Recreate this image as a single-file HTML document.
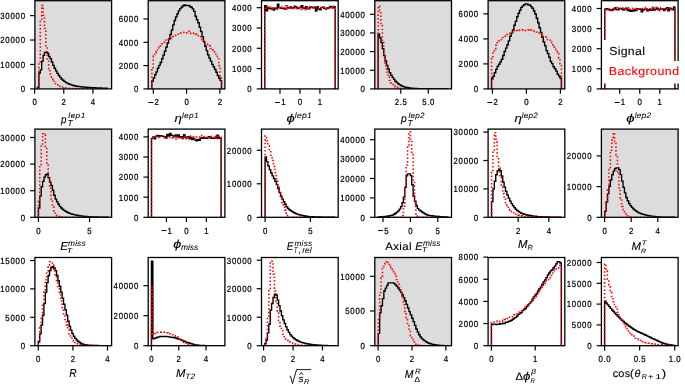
<!DOCTYPE html><html><head><meta charset="utf-8"><style>html,body{margin:0;padding:0;background:#fff;overflow:hidden}svg{display:block;will-change:transform}text{font-family:"Liberation Sans",sans-serif;text-rendering:geometricPrecision;stroke:currentColor;stroke-width:0.22px}</style></head><body>
<svg width="685" height="386" viewBox="0 0 685 386">
<rect width="685" height="386" fill="#fff"/>
<g>
<rect x="34.90" y="0.70" width="76.70" height="88.20" fill="#dcdcdc"/>
<clipPath id="cp00"><rect x="34.90" y="-0.30" width="76.70" height="89.20"/></clipPath>
<g clip-path="url(#cp00)">
<path d="M37.52,88.90L37.52,87.31L38.90,87.31L38.90,73.01L40.29,73.01L40.29,69.90L41.68,69.90L41.68,61.33L43.07,61.33L43.07,55.41L44.46,55.41L44.46,52.42L45.84,52.42L45.84,52.29L47.23,52.29L47.23,53.30L48.62,53.30L48.62,56.53L50.01,56.53L50.01,58.67L51.40,58.67L51.40,62.03L52.78,62.03L52.78,65.39L54.17,65.39L54.17,68.23L55.56,68.23L55.56,70.85L56.95,70.85L56.95,73.34L58.34,73.34L58.34,75.57L59.72,75.57L59.72,77.38L61.11,77.38L61.11,78.97L62.50,78.97L62.50,80.30L63.89,80.30L63.89,81.38L65.28,81.38L65.28,82.33L66.66,82.33L66.66,83.14L68.05,83.14L68.05,83.80L69.44,83.80L69.44,84.37L70.83,84.37L70.83,84.88L72.22,84.88L72.22,85.32L73.60,85.32L73.60,85.68L74.99,85.68L74.99,85.96L76.38,85.96L76.38,86.22L77.77,86.22L77.77,86.44L79.16,86.44L79.16,86.64L80.54,86.64L80.54,86.82L81.93,86.82L81.93,86.97L83.32,86.97L83.32,87.10L84.71,87.10L84.71,87.22L86.10,87.22L86.10,87.32L87.48,87.32L87.48,87.42L88.87,87.42L88.87,87.51L90.26,87.51L90.26,87.59L91.65,87.59L91.65,87.66L93.04,87.66L93.04,87.73L94.42,87.73L94.42,87.80L95.81,87.80L95.81,87.87L97.20,87.87L97.20,87.94L98.59,87.94L98.59,88.00L99.98,88.00L99.98,88.06L101.36,88.06L101.36,88.12L102.75,88.12L102.75,88.17L104.14,88.17L104.14,88.22L105.53,88.22L105.53,88.27L106.92,88.27L106.92,88.90" fill="none" stroke="#000" stroke-width="1.4" stroke-linejoin="miter"/>
<path d="M37.52,88.90L37.52,87.63L38.90,87.63L38.90,62.80L40.29,62.80L40.29,20.59L41.68,20.59L41.68,5.41L43.07,5.41L43.07,15.22L44.46,15.22L44.46,28.34L45.84,28.34L45.84,45.82L47.23,45.82L47.23,59.95L48.62,59.95L48.62,68.65L50.01,68.65L50.01,73.95L51.40,73.95L51.40,77.16L52.78,77.16L52.78,79.69L54.17,79.69L54.17,82.03L55.56,82.03L55.56,83.79L56.95,83.79L56.95,84.97L58.34,84.97L58.34,85.90L59.72,85.90L59.72,86.54L61.11,86.54L61.11,86.99L62.50,86.99L62.50,87.34L63.89,87.34L63.89,87.61L65.28,87.61L65.28,87.81L66.66,87.81L66.66,88.00L68.05,88.00L68.05,88.15L69.44,88.15L69.44,88.29L70.83,88.29L70.83,88.40L72.22,88.40L72.22,88.49L73.60,88.49L73.60,88.55L74.99,88.55L74.99,88.61L76.38,88.61L76.38,88.66L77.77,88.66L77.77,88.70L79.16,88.70L79.16,88.74L80.54,88.74L80.54,88.77L81.93,88.77L81.93,88.79L83.32,88.79L83.32,88.81L84.71,88.81L84.71,88.83L86.10,88.83L86.10,88.83L87.48,88.83L87.48,88.84L88.87,88.84L88.87,88.85L90.26,88.85L90.26,88.86L91.65,88.86L91.65,88.87L93.04,88.87L93.04,88.87L94.42,88.87L94.42,88.88L95.81,88.88L95.81,88.88L97.20,88.88L97.20,88.89L98.59,88.89L98.59,88.89L99.98,88.89L99.98,88.89L101.36,88.89L101.36,88.90L102.75,88.90L102.75,88.90L104.14,88.90L104.14,88.90L105.53,88.90L105.53,88.90L106.92,88.90L106.92,88.90" fill="none" stroke="#ff0000" stroke-width="1.55" stroke-linejoin="miter" stroke-dasharray="1.55 2.1"/>
</g>
<rect x="34.90" y="0.70" width="76.70" height="88.20" fill="none" stroke="#000" stroke-width="1.3"/>
<line x1="30.10" y1="88.90" x2="34.90" y2="88.90" stroke="#000" stroke-width="1.2"/>
<text transform="scale(0.88,1)" x="23.44" y="92.25" font-size="8.90">0</text>
<line x1="30.10" y1="64.47" x2="34.90" y2="64.47" stroke="#000" stroke-width="1.2"/>
<text transform="scale(0.88,1)" x="0.31 6.10 11.88 17.66 23.44" y="67.82" font-size="8.90">10000</text>
<line x1="30.10" y1="40.04" x2="34.90" y2="40.04" stroke="#000" stroke-width="1.2"/>
<text transform="scale(0.88,1)" x="0.31 6.10 11.88 17.66 23.44" y="43.39" font-size="8.90">20000</text>
<line x1="30.10" y1="15.61" x2="34.90" y2="15.61" stroke="#000" stroke-width="1.2"/>
<text transform="scale(0.88,1)" x="0.31 6.10 11.88 17.66 23.44" y="18.96" font-size="8.90">30000</text>
<line x1="34.60" y1="88.90" x2="34.60" y2="93.70" stroke="#000" stroke-width="1.2"/>
<text transform="scale(0.88,1)" x="36.84" y="105.10" font-size="8.90">0</text>
<line x1="63.76" y1="88.90" x2="63.76" y2="93.70" stroke="#000" stroke-width="1.2"/>
<text transform="scale(0.88,1)" x="69.98" y="105.10" font-size="8.90">2</text>
<line x1="92.92" y1="88.90" x2="92.92" y2="93.70" stroke="#000" stroke-width="1.2"/>
<text transform="scale(0.88,1)" x="103.12" y="105.10" font-size="8.90">4</text>
</g>
<g>
<rect x="148.20" y="0.70" width="76.70" height="88.20" fill="#dcdcdc"/>
<clipPath id="cp01"><rect x="148.20" y="-0.30" width="76.70" height="89.20"/></clipPath>
<g clip-path="url(#cp01)">
<path d="M151.84,88.90L151.84,81.28L153.24,81.28L153.24,78.15L154.63,78.15L154.63,74.81L156.02,74.81L156.02,71.91L157.42,71.91L157.42,68.23L158.81,68.23L158.81,65.36L160.20,65.36L160.20,62.50L161.60,62.50L161.60,58.74L162.99,58.74L162.99,55.10L164.39,55.10L164.39,51.22L165.78,51.22L165.78,47.29L167.17,47.29L167.17,42.97L168.57,42.97L168.57,39.02L169.96,39.02L169.96,34.47L171.35,34.47L171.35,30.01L172.75,30.01L172.75,24.89L174.14,24.89L174.14,20.54L175.53,20.54L175.53,16.96L176.93,16.96L176.93,13.84L178.32,13.84L178.32,10.85L179.72,10.85L179.72,8.63L181.11,8.63L181.11,7.28L182.50,7.28L182.50,5.75L183.90,5.75L183.90,5.06L185.29,5.06L185.29,5.54L186.68,5.54L186.68,5.38L188.08,5.38L188.08,5.57L189.47,5.57L189.47,6.43L190.86,6.43L190.86,7.29L192.26,7.29L192.26,8.85L193.65,8.85L193.65,11.41L195.04,11.41L195.04,16.22L196.44,16.22L196.44,19.64L197.83,19.64L197.83,22.73L199.23,22.73L199.23,27.21L200.62,27.21L200.62,31.64L202.01,31.64L202.01,36.63L203.41,36.63L203.41,41.74L204.80,41.74L204.80,46.21L206.19,46.21L206.19,50.67L207.59,50.67L207.59,54.83L208.98,54.83L208.98,58.08L210.37,58.08L210.37,61.08L211.77,61.08L211.77,64.33L213.16,64.33L213.16,66.84L214.56,66.84L214.56,69.45L215.95,69.45L215.95,72.22L217.34,72.22L217.34,75.49L218.74,75.49L218.74,78.24L220.13,78.24L220.13,80.58L221.52,80.58L221.52,88.90" fill="none" stroke="#000" stroke-width="1.4" stroke-linejoin="miter"/>
<path d="M151.84,88.90L151.84,68.70L153.24,68.70L153.24,56.00L154.63,56.00L154.63,52.89L156.02,52.89L156.02,52.13L157.42,52.13L157.42,48.73L158.81,48.73L158.81,47.17L160.20,47.17L160.20,45.95L161.60,45.95L161.60,43.66L162.99,43.66L162.99,42.40L164.39,42.40L164.39,41.68L165.78,41.68L165.78,40.09L167.17,40.09L167.17,39.93L168.57,39.93L168.57,39.19L169.96,39.19L169.96,38.59L171.35,38.59L171.35,37.11L172.75,37.11L172.75,36.48L174.14,36.48L174.14,35.36L175.53,35.36L175.53,35.24L176.93,35.24L176.93,34.31L178.32,34.31L178.32,34.23L179.72,34.23L179.72,32.95L181.11,32.95L181.11,32.88L182.50,32.88L182.50,32.56L183.90,32.56L183.90,32.34L185.29,32.34L185.29,32.85L186.68,32.85L186.68,31.93L188.08,31.93L188.08,31.35L189.47,31.35L189.47,33.21L190.86,33.21L190.86,33.47L192.26,33.47L192.26,33.67L193.65,33.67L193.65,33.09L195.04,33.09L195.04,34.11L196.44,34.11L196.44,34.49L197.83,34.49L197.83,35.55L199.23,35.55L199.23,36.79L200.62,36.79L200.62,38.06L202.01,38.06L202.01,39.77L203.41,39.77L203.41,40.86L204.80,40.86L204.80,43.32L206.19,43.32L206.19,44.36L207.59,44.36L207.59,45.32L208.98,45.32L208.98,45.85L210.37,45.85L210.37,48.41L211.77,48.41L211.77,50.10L213.16,50.10L213.16,51.67L214.56,51.67L214.56,53.03L215.95,53.03L215.95,56.17L217.34,56.17L217.34,58.80L218.74,58.80L218.74,65.53L220.13,65.53L220.13,75.92L221.52,75.92L221.52,88.90" fill="none" stroke="#ff0000" stroke-width="1.55" stroke-linejoin="miter" stroke-dasharray="1.55 2.1"/>
</g>
<rect x="148.20" y="0.70" width="76.70" height="88.20" fill="none" stroke="#000" stroke-width="1.3"/>
<line x1="143.40" y1="88.90" x2="148.20" y2="88.90" stroke="#000" stroke-width="1.2"/>
<text transform="scale(0.88,1)" x="152.19" y="92.25" font-size="8.90">0</text>
<line x1="143.40" y1="65.60" x2="148.20" y2="65.60" stroke="#000" stroke-width="1.2"/>
<text transform="scale(0.88,1)" x="134.85 140.63 146.41 152.19" y="68.95" font-size="8.90">2000</text>
<line x1="143.40" y1="42.30" x2="148.20" y2="42.30" stroke="#000" stroke-width="1.2"/>
<text transform="scale(0.88,1)" x="134.85 140.63 146.41 152.19" y="45.65" font-size="8.90">4000</text>
<line x1="143.40" y1="19.00" x2="148.20" y2="19.00" stroke="#000" stroke-width="1.2"/>
<text transform="scale(0.88,1)" x="134.85 140.63 146.41 152.19" y="22.35" font-size="8.90">6000</text>
<line x1="153.34" y1="88.90" x2="153.34" y2="93.70" stroke="#000" stroke-width="1.2"/>
<rect x="148.29" y="102.00" width="5.00" height="0.95"/><text transform="scale(0.88,1)" x="175.58" y="105.10" font-size="8.90">2</text>
<line x1="186.60" y1="88.90" x2="186.60" y2="93.70" stroke="#000" stroke-width="1.2"/>
<text transform="scale(0.88,1)" x="209.57" y="105.10" font-size="8.90">0</text>
<line x1="219.86" y1="88.90" x2="219.86" y2="93.70" stroke="#000" stroke-width="1.2"/>
<text transform="scale(0.88,1)" x="247.37" y="105.10" font-size="8.90">2</text>
</g>
<g>
<clipPath id="cp02"><rect x="261.50" y="-0.30" width="76.70" height="89.20"/></clipPath>
<g clip-path="url(#cp02)">
<path d="M264.74,88.90L264.74,5.62L266.15,5.62L266.15,10.76L267.56,10.76L267.56,7.44L268.96,7.44L268.96,8.54L270.37,8.54L270.37,8.41L271.78,8.41L271.78,8.14L273.19,8.14L273.19,10.16L274.60,10.16L274.60,8.16L276.01,8.16L276.01,8.87L277.41,8.87L277.41,4.19L278.82,4.19L278.82,7.65L280.23,7.65L280.23,8.30L281.64,8.30L281.64,8.22L283.05,8.22L283.05,8.65L284.46,8.65L284.46,9.08L285.87,9.08L285.87,8.34L287.27,8.34L287.27,7.36L288.68,7.36L288.68,8.17L290.09,8.17L290.09,6.83L291.50,6.83L291.50,8.13L292.91,8.13L292.91,7.88L294.32,7.88L294.32,6.18L295.72,6.18L295.72,7.29L297.13,7.29L297.13,8.47L298.54,8.47L298.54,8.11L299.95,8.11L299.95,7.30L301.36,7.30L301.36,5.74L302.77,5.74L302.77,8.20L304.18,8.20L304.18,8.17L305.58,8.17L305.58,6.78L306.99,6.78L306.99,8.89L308.40,8.89L308.40,8.23L309.81,8.23L309.81,6.92L311.22,6.92L311.22,7.26L312.63,7.26L312.63,7.80L314.03,7.80L314.03,7.15L315.44,7.15L315.44,11.06L316.85,11.06L316.85,6.76L318.26,6.76L318.26,8.97L319.67,8.97L319.67,9.77L321.08,9.77L321.08,7.59L322.49,7.59L322.49,7.12L323.89,7.12L323.89,8.40L325.30,8.40L325.30,9.10L326.71,9.10L326.71,7.87L328.12,7.87L328.12,7.96L329.53,7.96L329.53,6.33L330.94,6.33L330.94,7.07L332.34,7.07L332.34,7.69L333.75,7.69L333.75,6.66L335.16,6.66L335.16,88.90" fill="none" stroke="#000" stroke-width="1.4" stroke-linejoin="miter"/>
<path d="M264.74,88.90L264.74,8.50L266.15,8.50L266.15,8.06L267.56,8.06L267.56,6.38L268.96,6.38L268.96,7.30L270.37,7.30L270.37,9.40L271.78,9.40L271.78,7.91L273.19,7.91L273.19,8.47L274.60,8.47L274.60,7.77L276.01,7.77L276.01,9.37L277.41,9.37L277.41,7.68L278.82,7.68L278.82,7.69L280.23,7.69L280.23,6.46L281.64,6.46L281.64,7.61L283.05,7.61L283.05,7.44L284.46,7.44L284.46,9.27L285.87,9.27L285.87,5.85L287.27,5.85L287.27,9.65L288.68,9.65L288.68,6.90L290.09,6.90L290.09,8.20L291.50,8.20L291.50,8.71L292.91,8.71L292.91,8.50L294.32,8.50L294.32,8.52L295.72,8.52L295.72,7.56L297.13,7.56L297.13,8.00L298.54,8.00L298.54,6.55L299.95,6.55L299.95,9.57L301.36,9.57L301.36,7.91L302.77,7.91L302.77,8.72L304.18,8.72L304.18,7.19L305.58,7.19L305.58,9.84L306.99,9.84L306.99,8.22L308.40,8.22L308.40,7.71L309.81,7.71L309.81,9.26L311.22,9.26L311.22,7.00L312.63,7.00L312.63,7.74L314.03,7.74L314.03,6.98L315.44,6.98L315.44,7.03L316.85,7.03L316.85,8.80L318.26,8.80L318.26,8.63L319.67,8.63L319.67,8.09L321.08,8.09L321.08,7.22L322.49,7.22L322.49,7.13L323.89,7.13L323.89,8.55L325.30,8.55L325.30,8.46L326.71,8.46L326.71,8.63L328.12,8.63L328.12,8.44L329.53,8.44L329.53,8.12L330.94,8.12L330.94,8.02L332.34,8.02L332.34,6.02L333.75,6.02L333.75,8.37L335.16,8.37L335.16,88.90" fill="none" stroke="#ff0000" stroke-width="1.55" stroke-linejoin="miter" stroke-dasharray="1.55 2.1"/>
</g>
<rect x="261.50" y="0.70" width="76.70" height="88.20" fill="none" stroke="#000" stroke-width="1.3"/>
<line x1="256.70" y1="88.90" x2="261.50" y2="88.90" stroke="#000" stroke-width="1.2"/>
<text transform="scale(0.88,1)" x="280.94" y="92.25" font-size="8.90">0</text>
<line x1="256.70" y1="68.60" x2="261.50" y2="68.60" stroke="#000" stroke-width="1.2"/>
<text transform="scale(0.88,1)" x="263.60 269.38 275.16 280.94" y="71.95" font-size="8.90">1000</text>
<line x1="256.70" y1="48.30" x2="261.50" y2="48.30" stroke="#000" stroke-width="1.2"/>
<text transform="scale(0.88,1)" x="263.60 269.38 275.16 280.94" y="51.65" font-size="8.90">2000</text>
<line x1="256.70" y1="28.00" x2="261.50" y2="28.00" stroke="#000" stroke-width="1.2"/>
<text transform="scale(0.88,1)" x="263.60 269.38 275.16 280.94" y="31.35" font-size="8.90">3000</text>
<line x1="256.70" y1="7.70" x2="261.50" y2="7.70" stroke="#000" stroke-width="1.2"/>
<text transform="scale(0.88,1)" x="263.60 269.38 275.16 280.94" y="11.05" font-size="8.90">4000</text>
<line x1="280.00" y1="88.90" x2="280.00" y2="93.70" stroke="#000" stroke-width="1.2"/>
<rect x="274.95" y="102.00" width="5.00" height="0.95"/><text transform="scale(0.88,1)" x="319.52" y="105.10" font-size="8.90">1</text>
<line x1="299.95" y1="88.90" x2="299.95" y2="93.70" stroke="#000" stroke-width="1.2"/>
<text transform="scale(0.88,1)" x="338.38" y="105.10" font-size="8.90">0</text>
<line x1="319.90" y1="88.90" x2="319.90" y2="93.70" stroke="#000" stroke-width="1.2"/>
<text transform="scale(0.88,1)" x="361.05" y="105.10" font-size="8.90">1</text>
</g>
<g>
<rect x="374.80" y="0.70" width="76.70" height="88.20" fill="#dcdcdc"/>
<clipPath id="cp03"><rect x="374.80" y="-0.30" width="76.70" height="89.20"/></clipPath>
<g clip-path="url(#cp03)">
<path d="M378.14,88.90L378.14,33.89L379.54,33.89L379.54,37.82L380.93,37.82L380.93,42.65L382.33,42.65L382.33,48.68L383.73,48.68L383.73,55.59L385.12,55.59L385.12,61.02L386.52,61.02L386.52,65.39L387.92,65.39L387.92,69.28L389.32,69.28L389.32,72.80L390.71,72.80L390.71,75.32L392.11,75.32L392.11,77.38L393.51,77.38L393.51,79.41L394.90,79.41L394.90,81.20L396.30,81.20L396.30,82.57L397.70,82.57L397.70,83.70L399.10,83.70L399.10,84.62L400.49,84.62L400.49,85.43L401.89,85.43L401.89,86.14L403.29,86.14L403.29,86.69L404.68,86.69L404.68,87.09L406.08,87.09L406.08,87.45L407.48,87.45L407.48,87.76L408.87,87.76L408.87,88.00L410.27,88.00L410.27,88.17L411.67,88.17L411.67,88.27L413.06,88.27L413.06,88.37L414.46,88.37L414.46,88.45L415.86,88.45L415.86,88.52L417.26,88.52L417.26,88.58L418.65,88.58L418.65,88.63L420.05,88.63L420.05,88.67L421.45,88.67L421.45,88.70L422.84,88.70L422.84,88.72L424.24,88.72L424.24,88.74L425.64,88.74L425.64,88.76L427.04,88.76L427.04,88.78L428.43,88.78L428.43,88.79L429.83,88.79L429.83,88.81L431.23,88.81L431.23,88.82L432.62,88.82L432.62,88.83L434.02,88.83L434.02,88.85L435.42,88.85L435.42,88.86L436.81,88.86L436.81,88.87L438.21,88.87L438.21,88.87L439.61,88.87L439.61,88.88L441.00,88.88L441.00,88.89L442.40,88.89L442.40,88.89L443.80,88.89L443.80,88.90L445.20,88.90L445.20,88.90L446.59,88.90L446.59,88.90L447.99,88.90L447.99,88.90" fill="none" stroke="#000" stroke-width="1.4" stroke-linejoin="miter"/>
<path d="M378.14,88.90L378.14,6.12L379.54,6.12L379.54,12.69L380.93,12.69L380.93,25.60L382.33,25.60L382.33,41.54L383.73,41.54L383.73,55.19L385.12,55.19L385.12,65.91L386.52,65.91L386.52,72.01L387.92,72.01L387.92,76.45L389.32,76.45L389.32,80.24L390.71,80.24L390.71,82.85L392.11,82.85L392.11,84.43L393.51,84.43L393.51,85.70L394.90,85.70L394.90,86.68L396.30,86.68L396.30,87.39L397.70,87.39L397.70,87.92L399.10,87.92L399.10,88.38L400.49,88.38L400.49,88.66L401.89,88.66L401.89,88.72L403.29,88.72L403.29,88.74L404.68,88.74L404.68,88.75L406.08,88.75L406.08,88.77L407.48,88.77L407.48,88.77L408.87,88.77L408.87,88.78L410.27,88.78L410.27,88.79L411.67,88.79L411.67,88.79L413.06,88.79L413.06,88.80L414.46,88.80L414.46,88.80L415.86,88.80L415.86,88.80L417.26,88.80L417.26,88.81L418.65,88.81L418.65,88.81L420.05,88.81L420.05,88.82L421.45,88.82L421.45,88.82L422.84,88.82L422.84,88.82L424.24,88.82L424.24,88.83L425.64,88.83L425.64,88.83L427.04,88.83L427.04,88.84L428.43,88.84L428.43,88.84L429.83,88.84L429.83,88.84L431.23,88.84L431.23,88.84L432.62,88.84L432.62,88.85L434.02,88.85L434.02,88.85L435.42,88.85L435.42,88.85L436.81,88.85L436.81,88.85L438.21,88.85L438.21,88.86L439.61,88.86L439.61,88.86L441.00,88.86L441.00,88.86L442.40,88.86L442.40,88.86L443.80,88.86L443.80,88.86L445.20,88.86L445.20,88.86L446.59,88.86L446.59,88.86L447.99,88.86L447.99,88.90" fill="none" stroke="#ff0000" stroke-width="1.55" stroke-linejoin="miter" stroke-dasharray="1.55 2.1"/>
</g>
<rect x="374.80" y="0.70" width="76.70" height="88.20" fill="none" stroke="#000" stroke-width="1.3"/>
<line x1="370.00" y1="88.90" x2="374.80" y2="88.90" stroke="#000" stroke-width="1.2"/>
<text transform="scale(0.88,1)" x="409.69" y="92.25" font-size="8.90">0</text>
<line x1="370.00" y1="70.25" x2="374.80" y2="70.25" stroke="#000" stroke-width="1.2"/>
<text transform="scale(0.88,1)" x="386.56 392.35 398.13 403.91 409.69" y="73.60" font-size="8.90">10000</text>
<line x1="370.00" y1="51.60" x2="374.80" y2="51.60" stroke="#000" stroke-width="1.2"/>
<text transform="scale(0.88,1)" x="386.56 392.35 398.13 403.91 409.69" y="54.95" font-size="8.90">20000</text>
<line x1="370.00" y1="32.95" x2="374.80" y2="32.95" stroke="#000" stroke-width="1.2"/>
<text transform="scale(0.88,1)" x="386.56 392.35 398.13 403.91 409.69" y="36.30" font-size="8.90">30000</text>
<line x1="370.00" y1="14.30" x2="374.80" y2="14.30" stroke="#000" stroke-width="1.2"/>
<text transform="scale(0.88,1)" x="386.56 392.35 398.13 403.91 409.69" y="17.65" font-size="8.90">40000</text>
<line x1="400.80" y1="88.90" x2="400.80" y2="93.70" stroke="#000" stroke-width="1.2"/>
<text transform="scale(0.88,1)" x="448.64 454.22 457.32" y="105.10" font-size="8.90">2.5</text>
<line x1="428.30" y1="88.90" x2="428.30" y2="93.70" stroke="#000" stroke-width="1.2"/>
<text transform="scale(0.88,1)" x="479.89 485.47 488.57" y="105.10" font-size="8.90">5.0</text>
</g>
<g>
<rect x="488.10" y="0.70" width="76.70" height="88.20" fill="#dcdcdc"/>
<clipPath id="cp04"><rect x="488.10" y="-0.30" width="76.70" height="89.20"/></clipPath>
<g clip-path="url(#cp04)">
<path d="M491.55,88.90L491.55,78.77L492.95,78.77L492.95,76.28L494.34,76.28L494.34,72.75L495.74,72.75L495.74,69.42L497.14,69.42L497.14,66.42L498.54,66.42L498.54,64.22L499.93,64.22L499.93,61.88L501.33,61.88L501.33,59.18L502.73,59.18L502.73,55.45L504.13,55.45L504.13,51.51L505.52,51.51L505.52,48.14L506.92,48.14L506.92,44.78L508.32,44.78L508.32,40.89L509.72,40.89L509.72,36.27L511.11,36.27L511.11,33.12L512.51,33.12L512.51,30.06L513.91,30.06L513.91,25.30L515.31,25.30L515.31,21.24L516.70,21.24L516.70,16.81L518.10,16.81L518.10,13.26L519.50,13.26L519.50,10.23L520.90,10.23L520.90,7.35L522.29,7.35L522.29,5.85L523.69,5.85L523.69,4.72L525.09,4.72L525.09,4.00L526.49,4.00L526.49,3.91L527.88,3.91L527.88,4.97L529.28,4.97L529.28,4.93L530.68,4.93L530.68,6.58L532.07,6.58L532.07,8.24L533.47,8.24L533.47,10.97L534.87,10.97L534.87,13.99L536.27,13.99L536.27,18.22L537.66,18.22L537.66,22.70L539.06,22.70L539.06,27.80L540.46,27.80L540.46,32.33L541.86,32.33L541.86,37.32L543.25,37.32L543.25,42.04L544.65,42.04L544.65,45.86L546.05,45.86L546.05,50.61L547.45,50.61L547.45,53.61L548.84,53.61L548.84,57.26L550.24,57.26L550.24,61.49L551.64,61.49L551.64,63.60L553.04,63.60L553.04,66.80L554.43,66.80L554.43,68.80L555.83,68.80L555.83,71.11L557.23,71.11L557.23,74.24L558.63,74.24L558.63,76.02L560.02,76.02L560.02,78.33L561.42,78.33L561.42,88.90" fill="none" stroke="#000" stroke-width="1.4" stroke-linejoin="miter"/>
<path d="M491.55,88.90L491.55,58.40L492.95,58.40L492.95,51.73L494.34,51.73L494.34,48.93L495.74,48.93L495.74,45.25L497.14,45.25L497.14,42.71L498.54,42.71L498.54,40.94L499.93,40.94L499.93,39.80L501.33,39.80L501.33,38.33L502.73,38.33L502.73,37.47L504.13,37.47L504.13,36.13L505.52,36.13L505.52,35.06L506.92,35.06L506.92,34.42L508.32,34.42L508.32,33.54L509.72,33.54L509.72,32.44L511.11,32.44L511.11,32.09L512.51,32.09L512.51,30.95L513.91,30.95L513.91,30.51L515.31,30.51L515.31,30.07L516.70,30.07L516.70,30.44L518.10,30.44L518.10,29.81L519.50,29.81L519.50,30.38L520.90,30.38L520.90,30.24L522.29,30.24L522.29,29.89L523.69,29.89L523.69,29.81L525.09,29.81L525.09,30.44L526.49,30.44L526.49,30.57L527.88,30.57L527.88,30.04L529.28,30.04L529.28,30.57L530.68,30.57L530.68,30.11L532.07,30.11L532.07,30.57L533.47,30.57L533.47,30.94L534.87,30.94L534.87,31.49L536.27,31.49L536.27,31.90L537.66,31.90L537.66,32.92L539.06,32.92L539.06,33.24L540.46,33.24L540.46,34.48L541.86,34.48L541.86,35.21L543.25,35.21L543.25,36.26L544.65,36.26L544.65,36.85L546.05,36.85L546.05,38.10L547.45,38.10L547.45,39.54L548.84,39.54L548.84,39.92L550.24,39.92L550.24,42.10L551.64,42.10L551.64,43.66L553.04,43.66L553.04,45.38L554.43,45.38L554.43,47.17L555.83,47.17L555.83,50.41L557.23,50.41L557.23,53.35L558.63,53.35L558.63,57.94L560.02,57.94L560.02,63.82L561.42,63.82L561.42,88.90" fill="none" stroke="#ff0000" stroke-width="1.55" stroke-linejoin="miter" stroke-dasharray="1.55 2.1"/>
</g>
<rect x="488.10" y="0.70" width="76.70" height="88.20" fill="none" stroke="#000" stroke-width="1.3"/>
<line x1="483.30" y1="88.90" x2="488.10" y2="88.90" stroke="#000" stroke-width="1.2"/>
<text transform="scale(0.88,1)" x="538.44" y="92.25" font-size="8.90">0</text>
<line x1="483.30" y1="63.90" x2="488.10" y2="63.90" stroke="#000" stroke-width="1.2"/>
<text transform="scale(0.88,1)" x="521.10 526.88 532.66 538.44" y="67.25" font-size="8.90">2000</text>
<line x1="483.30" y1="38.90" x2="488.10" y2="38.90" stroke="#000" stroke-width="1.2"/>
<text transform="scale(0.88,1)" x="521.10 526.88 532.66 538.44" y="42.25" font-size="8.90">4000</text>
<line x1="483.30" y1="13.90" x2="488.10" y2="13.90" stroke="#000" stroke-width="1.2"/>
<text transform="scale(0.88,1)" x="521.10 526.88 532.66 538.44" y="17.25" font-size="8.90">6000</text>
<line x1="492.40" y1="88.90" x2="492.40" y2="93.70" stroke="#000" stroke-width="1.2"/>
<rect x="487.35" y="102.00" width="5.00" height="0.95"/><text transform="scale(0.88,1)" x="560.88" y="105.10" font-size="8.90">2</text>
<line x1="526.40" y1="88.90" x2="526.40" y2="93.70" stroke="#000" stroke-width="1.2"/>
<text transform="scale(0.88,1)" x="595.71" y="105.10" font-size="8.90">0</text>
<line x1="560.40" y1="88.90" x2="560.40" y2="93.70" stroke="#000" stroke-width="1.2"/>
<text transform="scale(0.88,1)" x="634.34" y="105.10" font-size="8.90">2</text>
</g>
<g>
<clipPath id="cp05"><rect x="601.40" y="-0.30" width="76.70" height="89.20"/></clipPath>
<g clip-path="url(#cp05)">
<path d="M604.76,88.90L604.76,9.10L606.17,9.10L606.17,8.77L607.57,8.77L607.57,9.41L608.97,9.41L608.97,10.09L610.38,10.09L610.38,9.61L611.78,9.61L611.78,10.20L613.18,10.20L613.18,9.04L614.59,9.04L614.59,7.62L615.99,7.62L615.99,9.65L617.39,9.65L617.39,9.79L618.80,9.79L618.80,8.56L620.20,8.56L620.20,8.71L621.60,8.71L621.60,8.99L623.01,8.99L623.01,10.13L624.41,10.13L624.41,9.14L625.82,9.14L625.82,8.33L627.22,8.33L627.22,10.59L628.62,10.59L628.62,9.61L630.03,9.61L630.03,11.20L631.43,11.20L631.43,10.53L632.83,10.53L632.83,11.14L634.24,11.14L634.24,9.36L635.64,9.36L635.64,10.50L637.04,10.50L637.04,8.80L638.45,8.80L638.45,8.93L639.85,8.93L639.85,9.31L641.25,9.31L641.25,11.89L642.66,11.89L642.66,9.70L644.06,9.70L644.06,9.16L645.46,9.16L645.46,8.98L646.87,8.98L646.87,10.79L648.27,10.79L648.27,9.63L649.67,9.63L649.67,10.18L651.08,10.18L651.08,10.00L652.48,10.00L652.48,7.93L653.89,7.93L653.89,10.00L655.29,10.00L655.29,9.14L656.69,9.14L656.69,8.13L658.10,8.13L658.10,9.75L659.50,9.75L659.50,9.23L660.90,9.23L660.90,8.98L662.31,8.98L662.31,9.03L663.71,9.03L663.71,10.46L665.11,10.46L665.11,9.02L666.52,9.02L666.52,7.60L667.92,7.60L667.92,10.81L669.32,10.81L669.32,8.15L670.73,8.15L670.73,8.97L672.13,8.97L672.13,9.81L673.53,9.81L673.53,6.89L674.94,6.89L674.94,88.90" fill="none" stroke="#000" stroke-width="1.4" stroke-linejoin="miter"/>
<path d="M604.76,88.90L604.76,10.27L606.17,10.27L606.17,9.91L607.57,9.91L607.57,9.93L608.97,9.93L608.97,9.02L610.38,9.02L610.38,10.79L611.78,10.79L611.78,8.87L613.18,8.87L613.18,9.57L614.59,9.57L614.59,7.89L615.99,7.89L615.99,7.84L617.39,7.84L617.39,7.44L618.80,7.44L618.80,8.01L620.20,8.01L620.20,8.75L621.60,8.75L621.60,7.92L623.01,7.92L623.01,7.34L624.41,7.34L624.41,9.29L625.82,9.29L625.82,8.15L627.22,8.15L627.22,8.74L628.62,8.74L628.62,7.40L630.03,7.40L630.03,9.46L631.43,9.46L631.43,8.97L632.83,8.97L632.83,8.37L634.24,8.37L634.24,8.47L635.64,8.47L635.64,10.18L637.04,10.18L637.04,8.38L638.45,8.38L638.45,8.81L639.85,8.81L639.85,8.92L641.25,8.92L641.25,8.84L642.66,8.84L642.66,8.50L644.06,8.50L644.06,10.34L645.46,10.34L645.46,7.30L646.87,7.30L646.87,9.48L648.27,9.48L648.27,10.73L649.67,10.73L649.67,8.78L651.08,8.78L651.08,7.38L652.48,7.38L652.48,9.17L653.89,9.17L653.89,7.30L655.29,7.30L655.29,7.29L656.69,7.29L656.69,9.48L658.10,9.48L658.10,10.93L659.50,10.93L659.50,9.82L660.90,9.82L660.90,7.63L662.31,7.63L662.31,9.44L663.71,9.44L663.71,10.07L665.11,10.07L665.11,9.91L666.52,9.91L666.52,8.70L667.92,8.70L667.92,8.72L669.32,8.72L669.32,7.91L670.73,7.91L670.73,7.81L672.13,7.81L672.13,9.54L673.53,9.54L673.53,8.84L674.94,8.84L674.94,88.90" fill="none" stroke="#ff0000" stroke-width="1.55" stroke-linejoin="miter" stroke-dasharray="1.55 2.1"/>
</g>
<rect x="601.40" y="0.70" width="76.70" height="88.20" fill="none" stroke="#000" stroke-width="1.3"/>
<line x1="596.60" y1="88.90" x2="601.40" y2="88.90" stroke="#000" stroke-width="1.2"/>
<text transform="scale(0.88,1)" x="667.19" y="92.25" font-size="8.90">0</text>
<line x1="596.60" y1="68.80" x2="601.40" y2="68.80" stroke="#000" stroke-width="1.2"/>
<text transform="scale(0.88,1)" x="649.85 655.63 661.41 667.19" y="72.15" font-size="8.90">1000</text>
<line x1="596.60" y1="48.70" x2="601.40" y2="48.70" stroke="#000" stroke-width="1.2"/>
<text transform="scale(0.88,1)" x="649.85 655.63 661.41 667.19" y="52.05" font-size="8.90">2000</text>
<line x1="596.60" y1="28.60" x2="601.40" y2="28.60" stroke="#000" stroke-width="1.2"/>
<text transform="scale(0.88,1)" x="649.85 655.63 661.41 667.19" y="31.95" font-size="8.90">3000</text>
<line x1="596.60" y1="8.50" x2="601.40" y2="8.50" stroke="#000" stroke-width="1.2"/>
<text transform="scale(0.88,1)" x="649.85 655.63 661.41 667.19" y="11.85" font-size="8.90">4000</text>
<line x1="619.70" y1="88.90" x2="619.70" y2="93.70" stroke="#000" stroke-width="1.2"/>
<rect x="614.65" y="102.00" width="5.00" height="0.95"/><text transform="scale(0.88,1)" x="705.54" y="105.10" font-size="8.90">1</text>
<line x1="639.75" y1="88.90" x2="639.75" y2="93.70" stroke="#000" stroke-width="1.2"/>
<text transform="scale(0.88,1)" x="724.51" y="105.10" font-size="8.90">0</text>
<line x1="659.80" y1="88.90" x2="659.80" y2="93.70" stroke="#000" stroke-width="1.2"/>
<text transform="scale(0.88,1)" x="747.30" y="105.10" font-size="8.90">1</text>
</g>
<g>
<rect x="34.90" y="129.10" width="76.70" height="88.20" fill="#dcdcdc"/>
<clipPath id="cp10"><rect x="34.90" y="128.10" width="76.70" height="89.20"/></clipPath>
<g clip-path="url(#cp10)">
<path d="M38.40,217.30L38.40,207.95L39.80,207.95L39.80,196.00L41.20,196.00L41.20,186.71L42.60,186.71L42.60,181.40L44.00,181.40L44.00,177.14L45.40,177.14L45.40,174.75L46.80,174.75L46.80,173.94L48.20,173.94L48.20,177.81L49.60,177.81L49.60,182.25L51.00,182.25L51.00,185.49L52.39,185.49L52.39,190.31L53.79,190.31L53.79,195.24L55.19,195.24L55.19,199.09L56.59,199.09L56.59,201.92L57.99,201.92L57.99,204.29L59.39,204.29L59.39,206.40L60.79,206.40L60.79,208.06L62.19,208.06L62.19,209.31L63.59,209.31L63.59,210.35L64.99,210.35L64.99,211.23L66.39,211.23L66.39,212.03L67.79,212.03L67.79,212.75L69.19,212.75L69.19,213.37L70.59,213.37L70.59,213.85L71.99,213.85L71.99,214.26L73.39,214.26L73.39,214.61L74.79,214.61L74.79,214.91L76.19,214.91L76.19,215.18L77.58,215.18L77.58,215.44L78.98,215.44L78.98,215.68L80.38,215.68L80.38,215.89L81.78,215.89L81.78,216.08L83.18,216.08L83.18,216.24L84.58,216.24L84.58,216.38L85.98,216.38L85.98,216.50L87.38,216.50L87.38,216.61L88.78,216.61L88.78,216.72L90.18,216.72L90.18,216.81L91.58,216.81L91.58,216.88L92.98,216.88L92.98,216.95L94.38,216.95L94.38,216.99L95.78,216.99L95.78,217.04L97.18,217.04L97.18,217.08L98.58,217.08L98.58,217.11L99.98,217.11L99.98,217.15L101.38,217.15L101.38,217.18L102.78,217.18L102.78,217.20L104.17,217.20L104.17,217.22L105.57,217.22L105.57,217.24L106.97,217.24L106.97,217.25L108.37,217.25L108.37,217.30" fill="none" stroke="#000" stroke-width="1.4" stroke-linejoin="miter"/>
<path d="M38.40,217.30L38.40,201.22L39.80,201.22L39.80,166.72L41.20,166.72L41.20,145.48L42.60,145.48L42.60,133.78L44.00,133.78L44.00,134.83L45.40,134.83L45.40,146.75L46.80,146.75L46.80,162.95L48.20,162.95L48.20,177.03L49.60,177.03L49.60,188.29L51.00,188.29L51.00,201.32L52.39,201.32L52.39,206.70L53.79,206.70L53.79,211.85L55.19,211.85L55.19,214.38L56.59,214.38L56.59,215.79L57.99,215.79L57.99,216.55L59.39,216.55L59.39,216.94L60.79,216.94L60.79,217.14L62.19,217.14L62.19,217.27L63.59,217.27L63.59,217.30L64.99,217.30L64.99,217.30L66.39,217.30L66.39,217.30L67.79,217.30L67.79,217.30L69.19,217.30L69.19,217.30L70.59,217.30L70.59,217.30L71.99,217.30L71.99,217.30L73.39,217.30L73.39,217.30L74.79,217.30L74.79,217.30L76.19,217.30L76.19,217.30L77.58,217.30L77.58,217.30L78.98,217.30L78.98,217.30L80.38,217.30L80.38,217.30L81.78,217.30L81.78,217.30L83.18,217.30L83.18,217.30L84.58,217.30L84.58,217.30L85.98,217.30L85.98,217.30L87.38,217.30L87.38,217.30L88.78,217.30L88.78,217.30L90.18,217.30L90.18,217.30L91.58,217.30L91.58,217.30L92.98,217.30L92.98,217.30L94.38,217.30L94.38,217.30L95.78,217.30L95.78,217.30L97.18,217.30L97.18,217.30L98.58,217.30L98.58,217.30L99.98,217.30L99.98,217.30L101.38,217.30L101.38,217.30L102.78,217.30L102.78,217.30L104.17,217.30L104.17,217.30L105.57,217.30L105.57,217.30L106.97,217.30L106.97,217.30L108.37,217.30L108.37,217.30" fill="none" stroke="#ff0000" stroke-width="1.55" stroke-linejoin="miter" stroke-dasharray="1.55 2.1"/>
</g>
<rect x="34.90" y="129.10" width="76.70" height="88.20" fill="none" stroke="#000" stroke-width="1.3"/>
<line x1="30.10" y1="217.30" x2="34.90" y2="217.30" stroke="#000" stroke-width="1.2"/>
<text transform="scale(0.88,1)" x="23.44" y="220.65" font-size="8.90">0</text>
<line x1="30.10" y1="190.70" x2="34.90" y2="190.70" stroke="#000" stroke-width="1.2"/>
<text transform="scale(0.88,1)" x="0.31 6.10 11.88 17.66 23.44" y="194.05" font-size="8.90">10000</text>
<line x1="30.10" y1="164.10" x2="34.90" y2="164.10" stroke="#000" stroke-width="1.2"/>
<text transform="scale(0.88,1)" x="0.31 6.10 11.88 17.66 23.44" y="167.45" font-size="8.90">20000</text>
<line x1="30.10" y1="137.50" x2="34.90" y2="137.50" stroke="#000" stroke-width="1.2"/>
<text transform="scale(0.88,1)" x="0.31 6.10 11.88 17.66 23.44" y="140.85" font-size="8.90">30000</text>
<line x1="38.40" y1="217.30" x2="38.40" y2="222.10" stroke="#000" stroke-width="1.2"/>
<text transform="scale(0.88,1)" x="41.16" y="233.50" font-size="8.90">0</text>
<line x1="89.55" y1="217.30" x2="89.55" y2="222.10" stroke="#000" stroke-width="1.2"/>
<text transform="scale(0.88,1)" x="99.29" y="233.50" font-size="8.90">5</text>
</g>
<g>
<clipPath id="cp11"><rect x="148.20" y="128.10" width="76.70" height="89.20"/></clipPath>
<g clip-path="url(#cp11)">
<path d="M151.49,217.30L151.49,138.36L152.88,138.36L152.88,137.04L154.27,137.04L154.27,138.69L155.67,138.69L155.67,136.13L157.06,136.13L157.06,135.43L158.45,135.43L158.45,136.84L159.84,136.84L159.84,135.79L161.24,135.79L161.24,135.84L162.63,135.84L162.63,136.39L164.02,136.39L164.02,136.79L165.41,136.79L165.41,137.94L166.81,137.94L166.81,134.48L168.20,134.48L168.20,135.97L169.59,135.97L169.59,133.44L170.98,133.44L170.98,135.20L172.38,135.20L172.38,135.83L173.77,135.83L173.77,136.86L175.16,136.86L175.16,134.90L176.55,134.90L176.55,136.92L177.95,136.92L177.95,134.95L179.34,134.95L179.34,137.06L180.73,137.06L180.73,136.61L182.12,136.61L182.12,138.47L183.52,138.47L183.52,134.72L184.91,134.72L184.91,137.31L186.30,137.31L186.30,137.76L187.69,137.76L187.69,136.78L189.09,136.78L189.09,138.78L190.48,138.78L190.48,137.42L191.87,137.42L191.87,139.66L193.26,139.66L193.26,138.17L194.66,138.17L194.66,139.92L196.05,139.92L196.05,140.75L197.44,140.75L197.44,139.44L198.83,139.44L198.83,140.20L200.23,140.20L200.23,138.01L201.62,138.01L201.62,138.36L203.01,138.36L203.01,137.68L204.40,137.68L204.40,137.93L205.80,137.93L205.80,138.25L207.19,138.25L207.19,137.76L208.58,137.76L208.58,136.62L209.97,136.62L209.97,137.76L211.37,137.76L211.37,138.24L212.76,138.24L212.76,138.36L214.15,138.36L214.15,137.51L215.54,137.51L215.54,137.96L216.94,137.96L216.94,135.23L218.33,135.23L218.33,138.23L219.72,138.23L219.72,138.07L221.11,138.07L221.11,217.30" fill="none" stroke="#000" stroke-width="1.4" stroke-linejoin="miter"/>
<path d="M151.49,217.30L151.49,138.21L152.88,138.21L152.88,137.83L154.27,137.83L154.27,137.89L155.67,137.89L155.67,136.83L157.06,136.83L157.06,137.35L158.45,137.35L158.45,136.97L159.84,136.97L159.84,136.25L161.24,136.25L161.24,136.24L162.63,136.24L162.63,136.62L164.02,136.62L164.02,137.55L165.41,137.55L165.41,137.86L166.81,137.86L166.81,137.92L168.20,137.92L168.20,137.45L169.59,137.45L169.59,137.15L170.98,137.15L170.98,138.08L172.38,138.08L172.38,138.24L173.77,138.24L173.77,136.79L175.16,136.79L175.16,138.96L176.55,138.96L176.55,137.28L177.95,137.28L177.95,136.67L179.34,136.67L179.34,138.09L180.73,138.09L180.73,138.22L182.12,138.22L182.12,137.87L183.52,137.87L183.52,136.45L184.91,136.45L184.91,137.23L186.30,137.23L186.30,138.98L187.69,138.98L187.69,137.53L189.09,137.53L189.09,136.08L190.48,136.08L190.48,136.11L191.87,136.11L191.87,136.47L193.26,136.47L193.26,137.34L194.66,137.34L194.66,138.96L196.05,138.96L196.05,136.93L197.44,136.93L197.44,137.28L198.83,137.28L198.83,137.02L200.23,137.02L200.23,135.55L201.62,135.55L201.62,136.92L203.01,136.92L203.01,136.82L204.40,136.82L204.40,136.49L205.80,136.49L205.80,137.36L207.19,137.36L207.19,137.77L208.58,137.77L208.58,137.84L209.97,137.84L209.97,136.33L211.37,136.33L211.37,136.59L212.76,136.59L212.76,137.59L214.15,137.59L214.15,135.94L215.54,135.94L215.54,136.92L216.94,136.92L216.94,138.45L218.33,138.45L218.33,136.49L219.72,136.49L219.72,137.24L221.11,137.24L221.11,217.30" fill="none" stroke="#ff0000" stroke-width="1.55" stroke-linejoin="miter" stroke-dasharray="1.55 2.1"/>
</g>
<rect x="148.20" y="129.10" width="76.70" height="88.20" fill="none" stroke="#000" stroke-width="1.3"/>
<line x1="143.40" y1="217.30" x2="148.20" y2="217.30" stroke="#000" stroke-width="1.2"/>
<text transform="scale(0.88,1)" x="152.19" y="220.65" font-size="8.90">0</text>
<line x1="143.40" y1="197.20" x2="148.20" y2="197.20" stroke="#000" stroke-width="1.2"/>
<text transform="scale(0.88,1)" x="134.85 140.63 146.41 152.19" y="200.55" font-size="8.90">1000</text>
<line x1="143.40" y1="177.10" x2="148.20" y2="177.10" stroke="#000" stroke-width="1.2"/>
<text transform="scale(0.88,1)" x="134.85 140.63 146.41 152.19" y="180.45" font-size="8.90">2000</text>
<line x1="143.40" y1="157.00" x2="148.20" y2="157.00" stroke="#000" stroke-width="1.2"/>
<text transform="scale(0.88,1)" x="134.85 140.63 146.41 152.19" y="160.35" font-size="8.90">3000</text>
<line x1="143.40" y1="136.90" x2="148.20" y2="136.90" stroke="#000" stroke-width="1.2"/>
<text transform="scale(0.88,1)" x="134.85 140.63 146.41 152.19" y="140.25" font-size="8.90">4000</text>
<line x1="166.45" y1="217.30" x2="166.45" y2="222.10" stroke="#000" stroke-width="1.2"/>
<rect x="161.40" y="230.00" width="5.00" height="0.95"/><text transform="scale(0.88,1)" x="190.48" y="233.50" font-size="8.90">1</text>
<line x1="186.40" y1="217.30" x2="186.40" y2="222.10" stroke="#000" stroke-width="1.2"/>
<text transform="scale(0.88,1)" x="209.34" y="233.50" font-size="8.90">0</text>
<line x1="206.35" y1="217.30" x2="206.35" y2="222.10" stroke="#000" stroke-width="1.2"/>
<text transform="scale(0.88,1)" x="232.01" y="233.50" font-size="8.90">1</text>
</g>
<g>
<clipPath id="cp12"><rect x="261.50" y="128.10" width="76.70" height="89.20"/></clipPath>
<g clip-path="url(#cp12)">
<path d="M265.10,217.30L265.10,156.86L266.50,156.86L266.50,161.60L267.91,161.60L267.91,165.87L269.31,165.87L269.31,169.63L270.72,169.63L270.72,172.94L272.12,172.94L272.12,175.84L273.53,175.84L273.53,178.57L274.93,178.57L274.93,181.27L276.33,181.27L276.33,184.55L277.74,184.55L277.74,188.53L279.14,188.53L279.14,192.57L280.55,192.57L280.55,196.18L281.95,196.18L281.95,199.09L283.36,199.09L283.36,201.68L284.76,201.68L284.76,204.24L286.16,204.24L286.16,206.70L287.57,206.70L287.57,208.50L288.97,208.50L288.97,209.75L290.38,209.75L290.38,210.75L291.78,210.75L291.78,211.61L293.19,211.61L293.19,212.43L294.59,212.43L294.59,213.19L295.99,213.19L295.99,213.86L297.40,213.86L297.40,214.39L298.80,214.39L298.80,214.78L300.21,214.78L300.21,215.13L301.61,215.13L301.61,215.46L303.02,215.46L303.02,215.76L304.42,215.76L304.42,216.02L305.82,216.02L305.82,216.25L307.23,216.25L307.23,216.44L308.63,216.44L308.63,216.59L310.04,216.59L310.04,216.69L311.44,216.69L311.44,216.75L312.85,216.75L312.85,216.81L314.25,216.81L314.25,216.87L315.65,216.87L315.65,216.93L317.06,216.93L317.06,216.98L318.46,216.98L318.46,217.03L319.87,217.03L319.87,217.07L321.27,217.07L321.27,217.11L322.68,217.11L322.68,217.15L324.08,217.15L324.08,217.18L325.48,217.18L325.48,217.21L326.89,217.21L326.89,217.24L328.29,217.24L328.29,217.26L329.70,217.26L329.70,217.27L331.10,217.27L331.10,217.29L332.51,217.29L332.51,217.30L333.91,217.30L333.91,217.30L335.32,217.30L335.32,217.30" fill="none" stroke="#000" stroke-width="1.4" stroke-linejoin="miter"/>
<path d="M265.10,217.30L265.10,135.89L266.50,135.89L266.50,140.90L267.91,140.90L267.91,145.68L269.31,145.68L269.31,150.42L270.72,150.42L270.72,155.22L272.12,155.22L272.12,160.59L273.53,160.59L273.53,166.40L274.93,166.40L274.93,172.57L276.33,172.57L276.33,178.94L277.74,178.94L277.74,185.41L279.14,185.41L279.14,191.81L280.55,191.81L280.55,197.65L281.95,197.65L281.95,202.69L283.36,202.69L283.36,206.79L284.76,206.79L284.76,210.15L286.16,210.15L286.16,213.11L287.57,213.11L287.57,215.61L288.97,215.61L288.97,217.30L290.38,217.30L290.38,217.30L291.78,217.30L291.78,217.30L293.19,217.30L293.19,217.30L294.59,217.30L294.59,217.30L295.99,217.30L295.99,217.30L297.40,217.30L297.40,217.30L298.80,217.30L298.80,217.30L300.21,217.30L300.21,217.30L301.61,217.30L301.61,217.30L303.02,217.30L303.02,217.30L304.42,217.30L304.42,217.30L305.82,217.30L305.82,217.30L307.23,217.30L307.23,217.30L308.63,217.30L308.63,217.30L310.04,217.30L310.04,217.30L311.44,217.30L311.44,217.30L312.85,217.30L312.85,217.30L314.25,217.30L314.25,217.30L315.65,217.30L315.65,217.30L317.06,217.30L317.06,217.30L318.46,217.30L318.46,217.30L319.87,217.30L319.87,217.30L321.27,217.30L321.27,217.30L322.68,217.30L322.68,217.30L324.08,217.30L324.08,217.30L325.48,217.30L325.48,217.30L326.89,217.30L326.89,217.30L328.29,217.30L328.29,217.30L329.70,217.30L329.70,217.30L331.10,217.30L331.10,217.30L332.51,217.30L332.51,217.30L333.91,217.30L333.91,217.30L335.32,217.30L335.32,217.30" fill="none" stroke="#ff0000" stroke-width="1.55" stroke-linejoin="miter" stroke-dasharray="1.55 2.1"/>
</g>
<rect x="261.50" y="129.10" width="76.70" height="88.20" fill="none" stroke="#000" stroke-width="1.3"/>
<line x1="256.70" y1="217.30" x2="261.50" y2="217.30" stroke="#000" stroke-width="1.2"/>
<text transform="scale(0.88,1)" x="280.94" y="220.65" font-size="8.90">0</text>
<line x1="256.70" y1="183.78" x2="261.50" y2="183.78" stroke="#000" stroke-width="1.2"/>
<text transform="scale(0.88,1)" x="257.81 263.60 269.38 275.16 280.94" y="187.13" font-size="8.90">10000</text>
<line x1="256.70" y1="150.26" x2="261.50" y2="150.26" stroke="#000" stroke-width="1.2"/>
<text transform="scale(0.88,1)" x="257.81 263.60 269.38 275.16 280.94" y="153.61" font-size="8.90">20000</text>
<line x1="265.10" y1="217.30" x2="265.10" y2="222.10" stroke="#000" stroke-width="1.2"/>
<text transform="scale(0.88,1)" x="298.78" y="233.50" font-size="8.90">0</text>
<line x1="310.40" y1="217.30" x2="310.40" y2="222.10" stroke="#000" stroke-width="1.2"/>
<text transform="scale(0.88,1)" x="350.25" y="233.50" font-size="8.90">5</text>
</g>
<g>
<clipPath id="cp13"><rect x="374.80" y="128.10" width="76.70" height="89.20"/></clipPath>
<g clip-path="url(#cp13)">
<path d="M378.26,217.30L378.26,216.98L379.66,216.98L379.66,216.89L381.05,216.89L381.05,216.79L382.45,216.79L382.45,216.66L383.84,216.66L383.84,216.52L385.24,216.52L385.24,216.37L386.63,216.37L386.63,216.19L388.03,216.19L388.03,215.98L389.42,215.98L389.42,215.73L390.82,215.73L390.82,215.41L392.21,215.41L392.21,215.00L393.61,215.00L393.61,214.28L395.00,214.28L395.00,213.29L396.40,213.29L396.40,212.16L397.79,212.16L397.79,210.83L399.19,210.83L399.19,209.09L400.58,209.09L400.58,206.61L401.98,206.61L401.98,202.79L403.37,202.79L403.37,197.15L404.77,197.15L404.77,187.39L406.16,187.39L406.16,175.80L407.56,175.80L407.56,173.89L408.95,173.89L408.95,173.87L410.35,173.87L410.35,175.59L411.74,175.59L411.74,184.79L413.14,184.79L413.14,195.94L414.53,195.94L414.53,201.29L415.93,201.29L415.93,205.42L417.32,205.42L417.32,208.33L418.72,208.33L418.72,209.91L420.11,209.91L420.11,211.07L421.51,211.07L421.51,212.02L422.90,212.02L422.90,212.91L424.30,212.91L424.30,213.76L425.69,213.76L425.69,214.50L427.09,214.50L427.09,215.04L428.48,215.04L428.48,215.36L429.88,215.36L429.88,215.61L431.27,215.61L431.27,215.81L432.67,215.81L432.67,215.98L434.06,215.98L434.06,216.13L435.46,216.13L435.46,216.26L436.85,216.26L436.85,216.39L438.25,216.39L438.25,216.51L439.64,216.51L439.64,216.63L441.04,216.63L441.04,216.74L442.43,216.74L442.43,216.84L443.83,216.84L443.83,216.94L445.22,216.94L445.22,217.01L446.62,217.01L446.62,217.08L448.01,217.08L448.01,217.30" fill="none" stroke="#000" stroke-width="1.4" stroke-linejoin="miter"/>
<path d="M378.26,217.30L378.26,217.30L379.66,217.30L379.66,217.30L381.05,217.30L381.05,217.30L382.45,217.30L382.45,217.30L383.84,217.30L383.84,217.30L385.24,217.30L385.24,217.30L386.63,217.30L386.63,217.30L388.03,217.30L388.03,217.30L389.42,217.30L389.42,217.30L390.82,217.30L390.82,217.30L392.21,217.30L392.21,217.30L393.61,217.30L393.61,217.30L395.00,217.30L395.00,217.30L396.40,217.30L396.40,217.30L397.79,217.30L397.79,217.30L399.19,217.30L399.19,217.30L400.58,217.30L400.58,217.30L401.98,217.30L401.98,215.54L403.37,215.54L403.37,206.12L404.77,206.12L404.77,187.62L406.16,187.62L406.16,165.00L407.56,165.00L407.56,145.53L408.95,145.53L408.95,131.84L410.35,131.84L410.35,138.93L411.74,138.93L411.74,153.50L413.14,153.50L413.14,181.42L414.53,181.42L414.53,203.55L415.93,203.55L415.93,214.95L417.32,214.95L417.32,217.30L418.72,217.30L418.72,217.30L420.11,217.30L420.11,217.30L421.51,217.30L421.51,217.30L422.90,217.30L422.90,217.30L424.30,217.30L424.30,217.30L425.69,217.30L425.69,217.30L427.09,217.30L427.09,217.30L428.48,217.30L428.48,217.30L429.88,217.30L429.88,217.30L431.27,217.30L431.27,217.30L432.67,217.30L432.67,217.30L434.06,217.30L434.06,217.30L435.46,217.30L435.46,217.30L436.85,217.30L436.85,217.30L438.25,217.30L438.25,217.30L439.64,217.30L439.64,217.30L441.04,217.30L441.04,217.30L442.43,217.30L442.43,217.30L443.83,217.30L443.83,217.30L445.22,217.30L445.22,217.30L446.62,217.30L446.62,217.30L448.01,217.30L448.01,217.30" fill="none" stroke="#ff0000" stroke-width="1.55" stroke-linejoin="miter" stroke-dasharray="1.55 2.1"/>
</g>
<rect x="374.80" y="129.10" width="76.70" height="88.20" fill="none" stroke="#000" stroke-width="1.3"/>
<line x1="370.00" y1="217.30" x2="374.80" y2="217.30" stroke="#000" stroke-width="1.2"/>
<text transform="scale(0.88,1)" x="409.69" y="220.65" font-size="8.90">0</text>
<line x1="370.00" y1="197.90" x2="374.80" y2="197.90" stroke="#000" stroke-width="1.2"/>
<text transform="scale(0.88,1)" x="386.56 392.35 398.13 403.91 409.69" y="201.25" font-size="8.90">10000</text>
<line x1="370.00" y1="178.50" x2="374.80" y2="178.50" stroke="#000" stroke-width="1.2"/>
<text transform="scale(0.88,1)" x="386.56 392.35 398.13 403.91 409.69" y="181.85" font-size="8.90">20000</text>
<line x1="370.00" y1="159.10" x2="374.80" y2="159.10" stroke="#000" stroke-width="1.2"/>
<text transform="scale(0.88,1)" x="386.56 392.35 398.13 403.91 409.69" y="162.45" font-size="8.90">30000</text>
<line x1="370.00" y1="139.70" x2="374.80" y2="139.70" stroke="#000" stroke-width="1.2"/>
<text transform="scale(0.88,1)" x="386.56 392.35 398.13 403.91 409.69" y="143.05" font-size="8.90">40000</text>
<line x1="383.02" y1="217.30" x2="383.02" y2="222.10" stroke="#000" stroke-width="1.2"/>
<rect x="377.98" y="230.00" width="5.00" height="0.95"/><text transform="scale(0.88,1)" x="436.59" y="233.50" font-size="8.90">5</text>
<line x1="410.40" y1="217.30" x2="410.40" y2="222.10" stroke="#000" stroke-width="1.2"/>
<text transform="scale(0.88,1)" x="463.89" y="233.50" font-size="8.90">0</text>
<line x1="437.77" y1="217.30" x2="437.77" y2="222.10" stroke="#000" stroke-width="1.2"/>
<text transform="scale(0.88,1)" x="495.00" y="233.50" font-size="8.90">5</text>
</g>
<g>
<clipPath id="cp14"><rect x="488.10" y="128.10" width="76.70" height="89.20"/></clipPath>
<g clip-path="url(#cp14)">
<path d="M491.55,217.30L491.55,201.44L492.95,201.44L492.95,189.01L494.34,189.01L494.34,181.32L495.74,181.32L495.74,174.80L497.13,174.80L497.13,170.84L498.53,170.84L498.53,169.32L499.92,169.32L499.92,170.77L501.32,170.77L501.32,175.97L502.71,175.97L502.71,182.24L504.11,182.24L504.11,187.13L505.51,187.13L505.51,191.33L506.90,191.33L506.90,194.95L508.30,194.95L508.30,198.16L509.69,198.16L509.69,201.11L511.09,201.11L511.09,203.61L512.48,203.61L512.48,205.73L513.88,205.73L513.88,207.63L515.28,207.63L515.28,209.22L516.67,209.22L516.67,210.46L518.07,210.46L518.07,211.50L519.46,211.50L519.46,212.41L520.86,212.41L520.86,213.19L522.25,213.19L522.25,213.80L523.65,213.80L523.65,214.27L525.04,214.27L525.04,214.66L526.44,214.66L526.44,214.99L527.84,214.99L527.84,215.27L529.23,215.27L529.23,215.52L530.63,215.52L530.63,215.73L532.02,215.73L532.02,215.94L533.42,215.94L533.42,216.13L534.81,216.13L534.81,216.31L536.21,216.31L536.21,216.46L537.60,216.46L537.60,216.59L539.00,216.59L539.00,216.69L540.40,216.69L540.40,216.76L541.79,216.76L541.79,216.83L543.19,216.83L543.19,216.89L544.58,216.89L544.58,216.94L545.98,216.94L545.98,217.00L547.37,217.00L547.37,217.05L548.77,217.05L548.77,217.10L550.16,217.10L550.16,217.14L551.56,217.14L551.56,217.18L552.96,217.18L552.96,217.21L554.35,217.21L554.35,217.24L555.75,217.24L555.75,217.26L557.14,217.26L557.14,217.28L558.54,217.28L558.54,217.29L559.93,217.29L559.93,217.30L561.33,217.30L561.33,217.30" fill="none" stroke="#000" stroke-width="1.4" stroke-linejoin="miter"/>
<path d="M491.55,217.30L491.55,172.27L492.95,172.27L492.95,150.84L494.34,150.84L494.34,132.71L495.74,132.71L495.74,139.24L497.13,139.24L497.13,157.60L498.53,157.60L498.53,168.09L499.92,168.09L499.92,177.21L501.32,177.21L501.32,186.88L502.71,186.88L502.71,193.60L504.11,193.60L504.11,198.68L505.51,198.68L505.51,202.72L506.90,202.72L506.90,205.81L508.30,205.81L508.30,208.32L509.69,208.32L509.69,210.13L511.09,210.13L511.09,211.57L512.48,211.57L512.48,212.72L513.88,212.72L513.88,213.55L515.28,213.55L515.28,214.17L516.67,214.17L516.67,214.68L518.07,214.68L518.07,215.10L519.46,215.10L519.46,215.48L520.86,215.48L520.86,215.85L522.25,215.85L522.25,216.17L523.65,216.17L523.65,216.40L525.04,216.40L525.04,216.55L526.44,216.55L526.44,216.67L527.84,216.67L527.84,216.78L529.23,216.78L529.23,216.87L530.63,216.87L530.63,216.95L532.02,216.95L532.02,217.00L533.42,217.00L533.42,217.03L534.81,217.03L534.81,217.06L536.21,217.06L536.21,217.08L537.60,217.08L537.60,217.10L539.00,217.10L539.00,217.13L540.40,217.13L540.40,217.15L541.79,217.15L541.79,217.17L543.19,217.17L543.19,217.19L544.58,217.19L544.58,217.20L545.98,217.20L545.98,217.22L547.37,217.22L547.37,217.23L548.77,217.23L548.77,217.25L550.16,217.25L550.16,217.26L551.56,217.26L551.56,217.27L552.96,217.27L552.96,217.28L554.35,217.28L554.35,217.29L555.75,217.29L555.75,217.29L557.14,217.29L557.14,217.30L558.54,217.30L558.54,217.30L559.93,217.30L559.93,217.30L561.33,217.30L561.33,217.30" fill="none" stroke="#ff0000" stroke-width="1.55" stroke-linejoin="miter" stroke-dasharray="1.55 2.1"/>
</g>
<rect x="488.10" y="129.10" width="76.70" height="88.20" fill="none" stroke="#000" stroke-width="1.3"/>
<line x1="483.30" y1="217.30" x2="488.10" y2="217.30" stroke="#000" stroke-width="1.2"/>
<text transform="scale(0.88,1)" x="538.44" y="220.65" font-size="8.90">0</text>
<line x1="483.30" y1="188.90" x2="488.10" y2="188.90" stroke="#000" stroke-width="1.2"/>
<text transform="scale(0.88,1)" x="515.31 521.10 526.88 532.66 538.44" y="192.25" font-size="8.90">10000</text>
<line x1="483.30" y1="160.50" x2="488.10" y2="160.50" stroke="#000" stroke-width="1.2"/>
<text transform="scale(0.88,1)" x="515.31 521.10 526.88 532.66 538.44" y="163.85" font-size="8.90">20000</text>
<line x1="483.30" y1="132.10" x2="488.10" y2="132.10" stroke="#000" stroke-width="1.2"/>
<text transform="scale(0.88,1)" x="515.31 521.10 526.88 532.66 538.44" y="135.45" font-size="8.90">30000</text>
<line x1="518.14" y1="217.30" x2="518.14" y2="222.10" stroke="#000" stroke-width="1.2"/>
<text transform="scale(0.88,1)" x="586.32" y="233.50" font-size="8.90">2</text>
<line x1="548.88" y1="217.30" x2="548.88" y2="222.10" stroke="#000" stroke-width="1.2"/>
<text transform="scale(0.88,1)" x="621.25" y="233.50" font-size="8.90">4</text>
</g>
<g>
<rect x="601.40" y="129.10" width="76.70" height="88.20" fill="#dcdcdc"/>
<clipPath id="cp15"><rect x="601.40" y="128.10" width="76.70" height="89.20"/></clipPath>
<g clip-path="url(#cp15)">
<path d="M604.73,217.30L604.73,211.35L606.14,211.35L606.14,202.00L607.55,202.00L607.55,193.59L608.95,193.59L608.95,186.28L610.36,186.28L610.36,179.98L611.77,179.98L611.77,174.81L613.18,174.81L613.18,171.14L614.58,171.14L614.58,168.77L615.99,168.77L615.99,167.84L617.40,167.84L617.40,167.67L618.80,167.67L618.80,169.67L620.21,169.67L620.21,174.64L621.62,174.64L621.62,181.11L623.03,181.11L623.03,187.36L624.43,187.36L624.43,192.84L625.84,192.84L625.84,197.45L627.25,197.45L627.25,200.80L628.65,200.80L628.65,203.49L630.06,203.49L630.06,205.60L631.47,205.60L631.47,207.36L632.88,207.36L632.88,208.85L634.28,208.85L634.28,210.09L635.69,210.09L635.69,211.16L637.10,211.16L637.10,212.09L638.50,212.09L638.50,212.84L639.91,212.84L639.91,213.42L641.32,213.42L641.32,213.94L642.73,213.94L642.73,214.40L644.13,214.40L644.13,214.81L645.54,214.81L645.54,215.15L646.95,215.15L646.95,215.44L648.35,215.44L648.35,215.68L649.76,215.68L649.76,215.91L651.17,215.91L651.17,216.13L652.58,216.13L652.58,216.34L653.98,216.34L653.98,216.53L655.39,216.53L655.39,216.70L656.80,216.70L656.80,216.84L658.20,216.84L658.20,216.97L659.61,216.97L659.61,217.06L661.02,217.06L661.02,217.13L662.43,217.13L662.43,217.16L663.83,217.16L663.83,217.19L665.24,217.19L665.24,217.21L666.65,217.21L666.65,217.24L668.05,217.24L668.05,217.26L669.46,217.26L669.46,217.27L670.87,217.27L670.87,217.29L672.28,217.29L672.28,217.29L673.68,217.29L673.68,217.30L675.09,217.30L675.09,217.30" fill="none" stroke="#000" stroke-width="1.4" stroke-linejoin="miter"/>
<path d="M604.73,217.30L604.73,213.14L606.14,213.14L606.14,202.87L607.55,202.87L607.55,188.09L608.95,188.09L608.95,169.40L610.36,169.40L610.36,150.25L611.77,150.25L611.77,139.95L613.18,139.95L613.18,132.76L614.58,132.76L614.58,141.43L615.99,141.43L615.99,154.93L617.40,154.93L617.40,171.75L618.80,171.75L618.80,187.70L620.21,187.70L620.21,198.37L621.62,198.37L621.62,206.56L623.03,206.56L623.03,210.94L624.43,210.94L624.43,213.57L625.84,213.57L625.84,215.07L627.25,215.07L627.25,215.80L628.65,215.80L628.65,216.40L630.06,216.40L630.06,216.86L631.47,216.86L631.47,217.17L632.88,217.17L632.88,217.30L634.28,217.30L634.28,217.30L635.69,217.30L635.69,217.30L637.10,217.30L637.10,217.30L638.50,217.30L638.50,217.30L639.91,217.30L639.91,217.30L641.32,217.30L641.32,217.30L642.73,217.30L642.73,217.30L644.13,217.30L644.13,217.30L645.54,217.30L645.54,217.30L646.95,217.30L646.95,217.30L648.35,217.30L648.35,217.30L649.76,217.30L649.76,217.30L651.17,217.30L651.17,217.30L652.58,217.30L652.58,217.30L653.98,217.30L653.98,217.30L655.39,217.30L655.39,217.30L656.80,217.30L656.80,217.30L658.20,217.30L658.20,217.30L659.61,217.30L659.61,217.30L661.02,217.30L661.02,217.30L662.43,217.30L662.43,217.30L663.83,217.30L663.83,217.30L665.24,217.30L665.24,217.30L666.65,217.30L666.65,217.30L668.05,217.30L668.05,217.30L669.46,217.30L669.46,217.30L670.87,217.30L670.87,217.30L672.28,217.30L672.28,217.30L673.68,217.30L673.68,217.30L675.09,217.30L675.09,217.30" fill="none" stroke="#ff0000" stroke-width="1.55" stroke-linejoin="miter" stroke-dasharray="1.55 2.1"/>
</g>
<rect x="601.40" y="129.10" width="76.70" height="88.20" fill="none" stroke="#000" stroke-width="1.3"/>
<line x1="596.60" y1="217.30" x2="601.40" y2="217.30" stroke="#000" stroke-width="1.2"/>
<text transform="scale(0.88,1)" x="667.19" y="220.65" font-size="8.90">0</text>
<line x1="596.60" y1="186.60" x2="601.40" y2="186.60" stroke="#000" stroke-width="1.2"/>
<text transform="scale(0.88,1)" x="644.06 649.85 655.63 661.41 667.19" y="189.95" font-size="8.90">10000</text>
<line x1="596.60" y1="155.90" x2="601.40" y2="155.90" stroke="#000" stroke-width="1.2"/>
<text transform="scale(0.88,1)" x="644.06 649.85 655.63 661.41 667.19" y="159.25" font-size="8.90">20000</text>
<line x1="604.60" y1="217.30" x2="604.60" y2="222.10" stroke="#000" stroke-width="1.2"/>
<text transform="scale(0.88,1)" x="684.57" y="233.50" font-size="8.90">0</text>
<line x1="631.20" y1="217.30" x2="631.20" y2="222.10" stroke="#000" stroke-width="1.2"/>
<text transform="scale(0.88,1)" x="714.80" y="233.50" font-size="8.90">2</text>
<line x1="657.80" y1="217.30" x2="657.80" y2="222.10" stroke="#000" stroke-width="1.2"/>
<text transform="scale(0.88,1)" x="745.03" y="233.50" font-size="8.90">4</text>
</g>
<g>
<clipPath id="cp20"><rect x="34.90" y="256.50" width="76.70" height="89.20"/></clipPath>
<g clip-path="url(#cp20)">
<path d="M38.30,345.70L38.30,341.95L39.70,341.95L39.70,333.84L41.10,333.84L41.10,325.01L42.50,325.01L42.50,315.24L43.91,315.24L43.91,303.62L45.31,303.62L45.31,292.42L46.71,292.42L46.71,282.64L48.11,282.64L48.11,275.53L49.51,275.53L49.51,270.46L50.91,270.46L50.91,267.50L52.31,267.50L52.31,266.59L53.71,266.59L53.71,267.94L55.12,267.94L55.12,270.60L56.52,270.60L56.52,275.50L57.92,275.50L57.92,280.68L59.32,280.68L59.32,286.29L60.72,286.29L60.72,292.12L62.12,292.12L62.12,298.16L63.52,298.16L63.52,304.27L64.92,304.27L64.92,309.74L66.33,309.74L66.33,315.14L67.73,315.14L67.73,321.22L69.13,321.22L69.13,326.18L70.53,326.18L70.53,330.11L71.93,330.11L71.93,333.44L73.33,333.44L73.33,336.32L74.73,336.32L74.73,338.39L76.14,338.39L76.14,339.94L77.54,339.94L77.54,341.21L78.94,341.21L78.94,342.28L80.34,342.28L80.34,343.25L81.74,343.25L81.74,344.05L83.14,344.05L83.14,344.45L84.54,344.45L84.54,344.71L85.94,344.71L85.94,344.92L87.35,344.92L87.35,345.09L88.75,345.09L88.75,345.22L90.15,345.22L90.15,345.31L91.55,345.31L91.55,345.37L92.95,345.37L92.95,345.42L94.35,345.42L94.35,345.47L95.75,345.47L95.75,345.51L97.15,345.51L97.15,345.55L98.56,345.55L98.56,345.59L99.96,345.59L99.96,345.62L101.36,345.62L101.36,345.64L102.76,345.64L102.76,345.67L104.16,345.67L104.16,345.68L105.56,345.68L105.56,345.69L106.96,345.69L106.96,345.70L108.36,345.70L108.36,345.70" fill="none" stroke="#000" stroke-width="1.4" stroke-linejoin="miter"/>
<path d="M38.30,345.70L38.30,339.11L39.70,339.11L39.70,327.41L41.10,327.41L41.10,316.89L42.50,316.89L42.50,304.15L43.91,304.15L43.91,291.25L45.31,291.25L45.31,279.74L46.71,279.74L46.71,271.33L48.11,271.33L48.11,265.35L49.51,265.35L49.51,261.66L50.91,261.66L50.91,261.86L52.31,261.86L52.31,264.93L53.71,264.93L53.71,269.56L55.12,269.56L55.12,275.64L56.52,275.64L56.52,282.26L57.92,282.26L57.92,288.58L59.32,288.58L59.32,294.60L60.72,294.60L60.72,301.09L62.12,301.09L62.12,307.59L63.52,307.59L63.52,313.75L64.92,313.75L64.92,319.48L66.33,319.48L66.33,324.86L67.73,324.86L67.73,329.56L69.13,329.56L69.13,333.89L70.53,333.89L70.53,337.31L71.93,337.31L71.93,339.46L73.33,339.46L73.33,341.17L74.73,341.17L74.73,342.43L76.14,342.43L76.14,343.27L77.54,343.27L77.54,343.98L78.94,343.98L78.94,344.60L80.34,344.60L80.34,345.07L81.74,345.07L81.74,345.35L83.14,345.35L83.14,345.43L84.54,345.43L84.54,345.47L85.94,345.47L85.94,345.50L87.35,345.50L87.35,345.53L88.75,345.53L88.75,345.55L90.15,345.55L90.15,345.58L91.55,345.58L91.55,345.60L92.95,345.60L92.95,345.62L94.35,345.62L94.35,345.63L95.75,345.63L95.75,345.65L97.15,345.65L97.15,345.66L98.56,345.66L98.56,345.67L99.96,345.67L99.96,345.68L101.36,345.68L101.36,345.69L102.76,345.69L102.76,345.69L104.16,345.69L104.16,345.70L105.56,345.70L105.56,345.70L106.96,345.70L106.96,345.70L108.36,345.70L108.36,345.70" fill="none" stroke="#ff0000" stroke-width="1.55" stroke-linejoin="miter" stroke-dasharray="1.55 2.1"/>
</g>
<rect x="34.90" y="257.50" width="76.70" height="88.20" fill="none" stroke="#000" stroke-width="1.3"/>
<line x1="30.10" y1="345.70" x2="34.90" y2="345.70" stroke="#000" stroke-width="1.2"/>
<text transform="scale(0.88,1)" x="23.44" y="349.05" font-size="8.90">0</text>
<line x1="30.10" y1="317.30" x2="34.90" y2="317.30" stroke="#000" stroke-width="1.2"/>
<text transform="scale(0.88,1)" x="6.10 11.88 17.66 23.44" y="320.65" font-size="8.90">5000</text>
<line x1="30.10" y1="288.90" x2="34.90" y2="288.90" stroke="#000" stroke-width="1.2"/>
<text transform="scale(0.88,1)" x="0.31 6.10 11.88 17.66 23.44" y="292.25" font-size="8.90">10000</text>
<line x1="30.10" y1="260.50" x2="34.90" y2="260.50" stroke="#000" stroke-width="1.2"/>
<text transform="scale(0.88,1)" x="0.31 6.10 11.88 17.66 23.44" y="263.85" font-size="8.90">15000</text>
<line x1="38.30" y1="345.70" x2="38.30" y2="350.50" stroke="#000" stroke-width="1.2"/>
<text transform="scale(0.88,1)" x="41.05" y="361.90" font-size="8.90">0</text>
<line x1="72.90" y1="345.70" x2="72.90" y2="350.50" stroke="#000" stroke-width="1.2"/>
<text transform="scale(0.88,1)" x="80.37" y="361.90" font-size="8.90">2</text>
<line x1="107.50" y1="345.70" x2="107.50" y2="350.50" stroke="#000" stroke-width="1.2"/>
<text transform="scale(0.88,1)" x="119.68" y="361.90" font-size="8.90">4</text>
</g>
<g>
<clipPath id="cp21"><rect x="148.20" y="256.50" width="76.70" height="89.20"/></clipPath>
<g clip-path="url(#cp21)">
<path d="M151.45,345.70L151.45,261.25L152.85,261.25L152.85,338.80L154.25,338.80L154.25,338.42L155.65,338.42L155.65,337.75L157.05,337.75L157.05,337.29L158.45,337.29L158.45,336.87L159.85,336.87L159.85,336.57L161.25,336.57L161.25,336.50L162.65,336.50L162.65,336.50L164.05,336.50L164.05,336.50L165.45,336.50L165.45,336.51L166.86,336.51L166.86,336.66L168.26,336.66L168.26,336.90L169.66,336.90L169.66,337.13L171.06,337.13L171.06,337.32L172.46,337.32L172.46,337.52L173.86,337.52L173.86,337.75L175.26,337.75L175.26,338.05L176.66,338.05L176.66,338.47L178.06,338.47L178.06,338.97L179.46,338.97L179.46,339.51L180.86,339.51L180.86,340.06L182.26,340.06L182.26,340.68L183.66,340.68L183.66,341.30L185.06,341.30L185.06,341.87L186.46,341.87L186.46,342.36L187.86,342.36L187.86,342.82L189.26,342.82L189.26,343.24L190.66,343.24L190.66,343.66L192.06,343.66L192.06,344.09L193.46,344.09L193.46,344.52L194.87,344.52L194.87,344.87L196.27,344.87L196.27,345.07L197.67,345.07L197.67,345.22L199.07,345.22L199.07,345.35L200.47,345.35L200.47,345.45L201.87,345.45L201.87,345.52L203.27,345.52L203.27,345.57L204.67,345.57L204.67,345.62L206.07,345.62L206.07,345.66L207.47,345.66L207.47,345.68L208.87,345.68L208.87,345.70L210.27,345.70L210.27,345.70L211.67,345.70L211.67,345.70L213.07,345.70L213.07,345.70L214.47,345.70L214.47,345.70L215.87,345.70L215.87,345.70L217.27,345.70L217.27,345.70L218.67,345.70L218.67,345.70L220.07,345.70L220.07,345.70L221.47,345.70L221.47,345.70" fill="none" stroke="#000" stroke-width="1.4" stroke-linejoin="miter"/>
<path d="M151.45,345.70L151.45,287.05L152.85,287.05L152.85,334.38L154.25,334.38L154.25,333.58L155.65,333.58L155.65,332.91L157.05,332.91L157.05,332.54L158.45,332.54L158.45,332.29L159.85,332.29L159.85,332.13L161.25,332.13L161.25,332.10L162.65,332.10L162.65,332.14L164.05,332.14L164.05,332.23L165.45,332.23L165.45,332.35L166.86,332.35L166.86,332.67L168.26,332.67L168.26,333.16L169.66,333.16L169.66,333.67L171.06,333.67L171.06,334.18L172.46,334.18L172.46,334.76L173.86,334.76L173.86,335.40L175.26,335.40L175.26,336.15L176.66,336.15L176.66,337.08L178.06,337.08L178.06,338.10L179.46,338.10L179.46,339.14L180.86,339.14L180.86,340.28L182.26,340.28L182.26,341.41L183.66,341.41L183.66,342.39L185.06,342.39L185.06,343.25L186.46,343.25L186.46,344.00L187.86,344.00L187.86,344.54L189.26,344.54L189.26,344.92L190.66,344.92L190.66,345.24L192.06,345.24L192.06,345.45L193.46,345.45L193.46,345.56L194.87,345.56L194.87,345.64L196.27,345.64L196.27,345.69L197.67,345.69L197.67,345.70L199.07,345.70L199.07,345.70L200.47,345.70L200.47,345.70L201.87,345.70L201.87,345.70L203.27,345.70L203.27,345.70L204.67,345.70L204.67,345.70L206.07,345.70L206.07,345.70L207.47,345.70L207.47,345.70L208.87,345.70L208.87,345.70L210.27,345.70L210.27,345.70L211.67,345.70L211.67,345.70L213.07,345.70L213.07,345.70L214.47,345.70L214.47,345.70L215.87,345.70L215.87,345.70L217.27,345.70L217.27,345.70L218.67,345.70L218.67,345.70L220.07,345.70L220.07,345.70L221.47,345.70L221.47,345.70" fill="none" stroke="#ff0000" stroke-width="1.55" stroke-linejoin="miter" stroke-dasharray="1.55 2.1"/>
</g>
<rect x="148.20" y="257.50" width="76.70" height="88.20" fill="none" stroke="#000" stroke-width="1.3"/>
<line x1="143.40" y1="345.70" x2="148.20" y2="345.70" stroke="#000" stroke-width="1.2"/>
<text transform="scale(0.88,1)" x="152.19" y="349.05" font-size="8.90">0</text>
<line x1="143.40" y1="315.70" x2="148.20" y2="315.70" stroke="#000" stroke-width="1.2"/>
<text transform="scale(0.88,1)" x="129.06 134.85 140.63 146.41 152.19" y="319.05" font-size="8.90">20000</text>
<line x1="143.40" y1="285.70" x2="148.20" y2="285.70" stroke="#000" stroke-width="1.2"/>
<text transform="scale(0.88,1)" x="129.06 134.85 140.63 146.41 152.19" y="289.05" font-size="8.90">40000</text>
<line x1="151.45" y1="345.70" x2="151.45" y2="350.50" stroke="#000" stroke-width="1.2"/>
<text transform="scale(0.88,1)" x="169.63" y="361.90" font-size="8.90">0</text>
<line x1="178.75" y1="345.70" x2="178.75" y2="350.50" stroke="#000" stroke-width="1.2"/>
<text transform="scale(0.88,1)" x="200.65" y="361.90" font-size="8.90">2</text>
<line x1="206.05" y1="345.70" x2="206.05" y2="350.50" stroke="#000" stroke-width="1.2"/>
<text transform="scale(0.88,1)" x="231.67" y="361.90" font-size="8.90">4</text>
</g>
<g>
<clipPath id="cp22"><rect x="261.50" y="256.50" width="76.70" height="89.20"/></clipPath>
<g clip-path="url(#cp22)">
<path d="M264.63,345.70L264.63,343.68L266.03,343.68L266.03,339.97L267.43,339.97L267.43,332.83L268.83,332.83L268.83,324.27L270.22,324.27L270.22,310.03L271.62,310.03L271.62,303.49L273.02,303.49L273.02,297.51L274.42,297.51L274.42,294.12L275.82,294.12L275.82,294.98L277.22,294.98L277.22,300.13L278.61,300.13L278.61,305.66L280.01,305.66L280.01,310.94L281.41,310.94L281.41,315.71L282.81,315.71L282.81,319.89L284.21,319.89L284.21,323.57L285.61,323.57L285.61,326.90L287.00,326.90L287.00,329.81L288.40,329.81L288.40,332.39L289.80,332.39L289.80,334.61L291.20,334.61L291.20,336.28L292.60,336.28L292.60,337.66L294.00,337.66L294.00,338.82L295.40,338.82L295.40,339.76L296.79,339.76L296.79,340.57L298.19,340.57L298.19,341.27L299.59,341.27L299.59,341.88L300.99,341.88L300.99,342.38L302.39,342.38L302.39,342.80L303.79,342.80L303.79,343.17L305.18,343.17L305.18,343.49L306.58,343.49L306.58,343.76L307.98,343.76L307.98,344.00L309.38,344.00L309.38,344.23L310.78,344.23L310.78,344.44L312.18,344.44L312.18,344.63L313.57,344.63L313.57,344.79L314.97,344.79L314.97,344.92L316.37,344.92L316.37,345.02L317.77,345.02L317.77,345.11L319.17,345.11L319.17,345.19L320.57,345.19L320.57,345.27L321.96,345.27L321.96,345.35L323.36,345.35L323.36,345.42L324.76,345.42L324.76,345.48L326.16,345.48L326.16,345.54L327.56,345.54L327.56,345.59L328.96,345.59L328.96,345.63L330.36,345.63L330.36,345.66L331.75,345.66L331.75,345.69L333.15,345.69L333.15,345.70L334.55,345.70L334.55,345.70" fill="none" stroke="#000" stroke-width="1.4" stroke-linejoin="miter"/>
<path d="M264.63,345.70L264.63,345.12L266.03,345.12L266.03,338.52L267.43,338.52L267.43,317.07L268.83,317.07L268.83,288.56L270.22,288.56L270.22,263.03L271.62,263.03L271.62,261.20L273.02,261.20L273.02,274.24L274.42,274.24L274.42,291.05L275.82,291.05L275.82,301.58L277.22,301.58L277.22,312.74L278.61,312.74L278.61,320.49L280.01,320.49L280.01,326.22L281.41,326.22L281.41,330.75L282.81,330.75L282.81,334.33L284.21,334.33L284.21,336.83L285.61,336.83L285.61,338.87L287.00,338.87L287.00,340.45L288.40,340.45L288.40,341.52L289.80,341.52L289.80,342.34L291.20,342.34L291.20,343.04L292.60,343.04L292.60,343.60L294.00,343.60L294.00,344.04L295.40,344.04L295.40,344.35L296.79,344.35L296.79,344.61L298.19,344.61L298.19,344.85L299.59,344.85L299.59,345.05L300.99,345.05L300.99,345.22L302.39,345.22L302.39,345.34L303.79,345.34L303.79,345.41L305.18,345.41L305.18,345.44L306.58,345.44L306.58,345.46L307.98,345.46L307.98,345.49L309.38,345.49L309.38,345.51L310.78,345.51L310.78,345.54L312.18,345.54L312.18,345.56L313.57,345.56L313.57,345.58L314.97,345.58L314.97,345.59L316.37,345.59L316.37,345.61L317.77,345.61L317.77,345.62L319.17,345.62L319.17,345.64L320.57,345.64L320.57,345.65L321.96,345.65L321.96,345.66L323.36,345.66L323.36,345.67L324.76,345.67L324.76,345.68L326.16,345.68L326.16,345.68L327.56,345.68L327.56,345.69L328.96,345.69L328.96,345.69L330.36,345.69L330.36,345.70L331.75,345.70L331.75,345.70L333.15,345.70L333.15,345.70L334.55,345.70L334.55,345.70" fill="none" stroke="#ff0000" stroke-width="1.55" stroke-linejoin="miter" stroke-dasharray="1.55 2.1"/>
</g>
<rect x="261.50" y="257.50" width="76.70" height="88.20" fill="none" stroke="#000" stroke-width="1.3"/>
<line x1="256.70" y1="345.70" x2="261.50" y2="345.70" stroke="#000" stroke-width="1.2"/>
<text transform="scale(0.88,1)" x="280.94" y="349.05" font-size="8.90">0</text>
<line x1="256.70" y1="317.20" x2="261.50" y2="317.20" stroke="#000" stroke-width="1.2"/>
<text transform="scale(0.88,1)" x="257.81 263.60 269.38 275.16 280.94" y="320.55" font-size="8.90">10000</text>
<line x1="256.70" y1="288.70" x2="261.50" y2="288.70" stroke="#000" stroke-width="1.2"/>
<text transform="scale(0.88,1)" x="257.81 263.60 269.38 275.16 280.94" y="292.05" font-size="8.90">20000</text>
<line x1="256.70" y1="260.20" x2="261.50" y2="260.20" stroke="#000" stroke-width="1.2"/>
<text transform="scale(0.88,1)" x="257.81 263.60 269.38 275.16 280.94" y="263.55" font-size="8.90">30000</text>
<line x1="263.60" y1="345.70" x2="263.60" y2="350.50" stroke="#000" stroke-width="1.2"/>
<text transform="scale(0.88,1)" x="297.07" y="361.90" font-size="8.90">0</text>
<line x1="293.04" y1="345.70" x2="293.04" y2="350.50" stroke="#000" stroke-width="1.2"/>
<text transform="scale(0.88,1)" x="330.53" y="361.90" font-size="8.90">2</text>
<line x1="322.48" y1="345.70" x2="322.48" y2="350.50" stroke="#000" stroke-width="1.2"/>
<text transform="scale(0.88,1)" x="363.98" y="361.90" font-size="8.90">4</text>
</g>
<g>
<rect x="374.80" y="257.50" width="76.70" height="88.20" fill="#dcdcdc"/>
<clipPath id="cp23"><rect x="374.80" y="256.50" width="76.70" height="89.20"/></clipPath>
<g clip-path="url(#cp23)">
<path d="M378.27,345.70L378.27,333.36L379.66,333.36L379.66,312.70L381.06,312.70L381.06,305.76L382.45,305.76L382.45,298.67L383.84,298.67L383.84,291.02L385.24,291.02L385.24,288.15L386.63,288.15L386.63,285.33L388.02,285.33L388.02,282.89L389.42,282.89L389.42,282.89L390.81,282.89L390.81,282.89L392.20,282.89L392.20,282.89L393.60,282.89L393.60,283.38L394.99,283.38L394.99,284.68L396.38,284.68L396.38,286.22L397.78,286.22L397.78,287.94L399.17,287.94L399.17,290.05L400.56,290.05L400.56,292.37L401.96,292.37L401.96,294.91L403.35,294.91L403.35,297.74L404.74,297.74L404.74,300.81L406.14,300.81L406.14,304.33L407.53,304.33L407.53,308.07L408.92,308.07L408.92,311.60L410.32,311.60L410.32,314.91L411.71,314.91L411.71,318.20L413.10,318.20L413.10,321.64L414.50,321.64L414.50,325.42L415.89,325.42L415.89,329.06L417.28,329.06L417.28,332.07L418.67,332.07L418.67,334.77L420.07,334.77L420.07,337.01L421.46,337.01L421.46,338.62L422.85,338.62L422.85,339.86L424.25,339.86L424.25,340.86L425.64,340.86L425.64,341.77L427.03,341.77L427.03,342.58L428.43,342.58L428.43,343.25L429.82,343.25L429.82,343.73L431.21,343.73L431.21,344.13L432.61,344.13L432.61,344.48L434.00,344.48L434.00,344.77L435.39,344.77L435.39,344.99L436.79,344.99L436.79,345.15L438.18,345.15L438.18,345.27L439.57,345.27L439.57,345.38L440.97,345.38L440.97,345.48L442.36,345.48L442.36,345.56L443.75,345.56L443.75,345.63L445.15,345.63L445.15,345.67L446.54,345.67L446.54,345.70L447.93,345.70L447.93,345.70" fill="none" stroke="#000" stroke-width="1.4" stroke-linejoin="miter"/>
<path d="M378.27,345.70L378.27,319.71L379.66,319.71L379.66,292.58L381.06,292.58L381.06,277.84L382.45,277.84L382.45,268.22L383.84,268.22L383.84,263.79L385.24,263.79L385.24,261.62L386.63,261.62L386.63,261.20L388.02,261.20L388.02,262.50L389.42,262.50L389.42,264.63L390.81,264.63L390.81,267.66L392.20,267.66L392.20,270.47L393.60,270.47L393.60,273.38L394.99,273.38L394.99,276.34L396.38,276.34L396.38,279.50L397.78,279.50L397.78,283.18L399.17,283.18L399.17,287.64L400.56,287.64L400.56,292.72L401.96,292.72L401.96,298.30L403.35,298.30L403.35,304.77L404.74,304.77L404.74,311.39L406.14,311.39L406.14,317.99L407.53,317.99L407.53,324.34L408.92,324.34L408.92,330.47L410.32,330.47L410.32,335.79L411.71,335.79L411.71,339.40L413.10,339.40L413.10,342.06L414.50,342.06L414.50,343.36L415.89,343.36L415.89,344.21L417.28,344.21L417.28,344.79L418.67,344.79L418.67,345.13L420.07,345.13L420.07,345.40L421.46,345.40L421.46,345.60L422.85,345.60L422.85,345.70L424.25,345.70L424.25,345.70L425.64,345.70L425.64,345.70L427.03,345.70L427.03,345.70L428.43,345.70L428.43,345.70L429.82,345.70L429.82,345.70L431.21,345.70L431.21,345.70L432.61,345.70L432.61,345.70L434.00,345.70L434.00,345.70L435.39,345.70L435.39,345.70L436.79,345.70L436.79,345.70L438.18,345.70L438.18,345.70L439.57,345.70L439.57,345.70L440.97,345.70L440.97,345.70L442.36,345.70L442.36,345.70L443.75,345.70L443.75,345.70L445.15,345.70L445.15,345.70L446.54,345.70L446.54,345.70L447.93,345.70L447.93,345.70" fill="none" stroke="#ff0000" stroke-width="1.55" stroke-linejoin="miter" stroke-dasharray="1.55 2.1"/>
</g>
<rect x="374.80" y="257.50" width="76.70" height="88.20" fill="none" stroke="#000" stroke-width="1.3"/>
<line x1="370.00" y1="345.70" x2="374.80" y2="345.70" stroke="#000" stroke-width="1.2"/>
<text transform="scale(0.88,1)" x="409.69" y="349.05" font-size="8.90">0</text>
<line x1="370.00" y1="311.00" x2="374.80" y2="311.00" stroke="#000" stroke-width="1.2"/>
<text transform="scale(0.88,1)" x="392.35 398.13 403.91 409.69" y="314.35" font-size="8.90">5000</text>
<line x1="370.00" y1="276.30" x2="374.80" y2="276.30" stroke="#000" stroke-width="1.2"/>
<text transform="scale(0.88,1)" x="386.56 392.35 398.13 403.91 409.69" y="279.65" font-size="8.90">10000</text>
<line x1="378.10" y1="345.70" x2="378.10" y2="350.50" stroke="#000" stroke-width="1.2"/>
<text transform="scale(0.88,1)" x="427.18" y="361.90" font-size="8.90">0</text>
<line x1="412.00" y1="345.70" x2="412.00" y2="350.50" stroke="#000" stroke-width="1.2"/>
<text transform="scale(0.88,1)" x="465.71" y="361.90" font-size="8.90">2</text>
<line x1="445.90" y1="345.70" x2="445.90" y2="350.50" stroke="#000" stroke-width="1.2"/>
<text transform="scale(0.88,1)" x="504.23" y="361.90" font-size="8.90">4</text>
</g>
<g>
<clipPath id="cp24"><rect x="488.10" y="256.50" width="76.70" height="89.20"/></clipPath>
<g clip-path="url(#cp24)">
<path d="M491.40,345.70L491.40,324.64L492.80,324.64L492.80,324.14L494.20,324.14L494.20,324.10L495.60,324.10L495.60,324.55L497.00,324.55L497.00,324.33L498.39,324.33L498.39,324.24L499.79,324.24L499.79,323.70L501.19,323.70L501.19,323.68L502.59,323.68L502.59,323.12L503.99,323.12L503.99,323.64L505.39,323.64L505.39,322.12L506.79,322.12L506.79,322.23L508.19,322.23L508.19,321.41L509.58,321.41L509.58,321.00L510.98,321.00L510.98,320.31L512.38,320.31L512.38,319.18L513.78,319.18L513.78,318.13L515.18,318.13L515.18,317.34L516.58,317.34L516.58,316.04L517.98,316.04L517.98,314.41L519.38,314.41L519.38,313.57L520.78,313.57L520.78,312.47L522.17,312.47L522.17,310.52L523.57,310.52L523.57,309.52L524.97,309.52L524.97,308.52L526.37,308.52L526.37,306.65L527.77,306.65L527.77,304.89L529.17,304.89L529.17,303.36L530.57,303.36L530.57,301.58L531.97,301.58L531.97,299.13L533.36,299.13L533.36,296.88L534.76,296.88L534.76,295.29L536.16,295.29L536.16,293.44L537.56,293.44L537.56,291.00L538.96,291.00L538.96,288.78L540.36,288.78L540.36,286.96L541.76,286.96L541.76,284.42L543.16,284.42L543.16,281.86L544.55,281.86L544.55,279.83L545.95,279.83L545.95,277.64L547.35,277.64L547.35,275.01L548.75,275.01L548.75,273.03L550.15,273.03L550.15,270.92L551.55,270.92L551.55,269.96L552.95,269.96L552.95,267.97L554.35,267.97L554.35,266.12L555.75,266.12L555.75,263.84L557.14,263.84L557.14,261.71L558.54,261.71L558.54,261.74L559.94,261.74L559.94,263.06L561.34,263.06L561.34,345.70" fill="none" stroke="#000" stroke-width="1.4" stroke-linejoin="miter"/>
<path d="M491.40,345.70L491.40,322.50L492.80,322.50L492.80,322.00L494.20,322.00L494.20,321.91L495.60,321.91L495.60,321.68L497.00,321.68L497.00,321.11L498.39,321.11L498.39,321.76L499.79,321.76L499.79,321.25L501.19,321.25L501.19,321.10L502.59,321.10L502.59,320.24L503.99,320.24L503.99,319.37L505.39,319.37L505.39,319.17L506.79,319.17L506.79,318.42L508.19,318.42L508.19,318.57L509.58,318.57L509.58,317.16L510.98,317.16L510.98,316.76L512.38,316.76L512.38,315.12L513.78,315.12L513.78,314.70L515.18,314.70L515.18,314.02L516.58,314.02L516.58,313.69L517.98,313.69L517.98,312.74L519.38,312.74L519.38,311.88L520.78,311.88L520.78,311.16L522.17,311.16L522.17,309.90L523.57,309.90L523.57,308.29L524.97,308.29L524.97,306.93L526.37,306.93L526.37,305.43L527.77,305.43L527.77,303.94L529.17,303.94L529.17,302.74L530.57,302.74L530.57,300.88L531.97,300.88L531.97,300.25L533.36,300.25L533.36,297.93L534.76,297.93L534.76,296.76L536.16,296.76L536.16,294.92L537.56,294.92L537.56,293.29L538.96,293.29L538.96,290.95L540.36,290.95L540.36,289.08L541.76,289.08L541.76,287.07L543.16,287.07L543.16,285.46L544.55,285.46L544.55,283.40L545.95,283.40L545.95,280.97L547.35,280.97L547.35,279.58L548.75,279.58L548.75,278.02L550.15,278.02L550.15,275.53L551.55,275.53L551.55,273.92L552.95,273.92L552.95,271.81L554.35,271.81L554.35,270.14L555.75,270.14L555.75,269.05L557.14,269.05L557.14,268.26L558.54,268.26L558.54,266.56L559.94,266.56L559.94,265.25L561.34,265.25L561.34,345.70" fill="none" stroke="#ff0000" stroke-width="1.55" stroke-linejoin="miter" stroke-dasharray="1.55 2.1"/>
</g>
<rect x="488.10" y="257.50" width="76.70" height="88.20" fill="none" stroke="#000" stroke-width="1.3"/>
<line x1="483.30" y1="345.70" x2="488.10" y2="345.70" stroke="#000" stroke-width="1.2"/>
<text transform="scale(0.88,1)" x="538.44" y="349.05" font-size="8.90">0</text>
<line x1="483.30" y1="323.55" x2="488.10" y2="323.55" stroke="#000" stroke-width="1.2"/>
<text transform="scale(0.88,1)" x="521.10 526.88 532.66 538.44" y="326.90" font-size="8.90">2000</text>
<line x1="483.30" y1="301.40" x2="488.10" y2="301.40" stroke="#000" stroke-width="1.2"/>
<text transform="scale(0.88,1)" x="521.10 526.88 532.66 538.44" y="304.75" font-size="8.90">4000</text>
<line x1="483.30" y1="279.25" x2="488.10" y2="279.25" stroke="#000" stroke-width="1.2"/>
<text transform="scale(0.88,1)" x="521.10 526.88 532.66 538.44" y="282.60" font-size="8.90">6000</text>
<line x1="483.30" y1="257.10" x2="488.10" y2="257.10" stroke="#000" stroke-width="1.2"/>
<text transform="scale(0.88,1)" x="521.10 526.88 532.66 538.44" y="260.45" font-size="8.90">8000</text>
<line x1="491.40" y1="345.70" x2="491.40" y2="350.50" stroke="#000" stroke-width="1.2"/>
<text transform="scale(0.88,1)" x="555.93" y="361.90" font-size="8.90">0</text>
<line x1="535.25" y1="345.70" x2="535.25" y2="350.50" stroke="#000" stroke-width="1.2"/>
<text transform="scale(0.88,1)" x="605.76" y="361.90" font-size="8.90">1</text>
</g>
<g>
<clipPath id="cp25"><rect x="601.40" y="256.50" width="76.70" height="89.20"/></clipPath>
<g clip-path="url(#cp25)">
<path d="M604.60,345.70L604.60,301.25L606.00,301.25L606.00,303.10L607.40,303.10L607.40,304.91L608.81,304.91L608.81,306.66L610.21,306.66L610.21,308.35L611.61,308.35L611.61,309.98L613.01,309.98L613.01,311.56L614.41,311.56L614.41,313.11L615.82,313.11L615.82,314.63L617.22,314.63L617.22,316.10L618.62,316.10L618.62,317.53L620.02,317.53L620.02,318.90L621.42,318.90L621.42,320.21L622.83,320.21L622.83,321.44L624.23,321.44L624.23,322.63L625.63,322.63L625.63,323.79L627.03,323.79L627.03,324.92L628.43,324.92L628.43,326.00L629.84,326.00L629.84,327.04L631.24,327.04L631.24,328.02L632.64,328.02L632.64,328.95L634.04,328.95L634.04,329.81L635.44,329.81L635.44,330.61L636.85,330.61L636.85,331.33L638.25,331.33L638.25,332.00L639.65,332.00L639.65,332.64L641.05,332.64L641.05,333.27L642.45,333.27L642.45,333.90L643.86,333.90L643.86,334.55L645.26,334.55L645.26,335.22L646.66,335.22L646.66,335.90L648.06,335.90L648.06,336.58L649.46,336.58L649.46,337.26L650.87,337.26L650.87,337.94L652.27,337.94L652.27,338.60L653.67,338.60L653.67,339.26L655.07,339.26L655.07,339.90L656.47,339.90L656.47,340.52L657.88,340.52L657.88,341.18L659.28,341.18L659.28,341.84L660.68,341.84L660.68,342.47L662.08,342.47L662.08,343.04L663.48,343.04L663.48,343.51L664.89,343.51L664.89,343.88L666.29,343.88L666.29,344.21L667.69,344.21L667.69,344.52L669.09,344.52L669.09,344.81L670.49,344.81L670.49,345.05L671.90,345.05L671.90,345.24L673.30,345.24L673.30,345.37L674.70,345.37L674.70,345.70" fill="none" stroke="#000" stroke-width="1.4" stroke-linejoin="miter"/>
<path d="M604.60,345.70L604.60,263.96L606.00,263.96L606.00,270.82L607.40,270.82L607.40,279.31L608.81,279.31L608.81,286.01L610.21,286.01L610.21,292.04L611.61,292.04L611.61,297.33L613.01,297.33L613.01,301.81L614.41,301.81L614.41,305.59L615.82,305.59L615.82,309.04L617.22,309.04L617.22,312.20L618.62,312.20L618.62,315.10L620.02,315.10L620.02,317.79L621.42,317.79L621.42,320.28L622.83,320.28L622.83,322.62L624.23,322.62L624.23,324.83L625.63,324.83L625.63,326.95L627.03,326.95L627.03,329.04L628.43,329.04L628.43,331.05L629.84,331.05L629.84,332.92L631.24,332.92L631.24,334.62L632.64,334.62L632.64,336.10L634.04,336.10L634.04,337.29L635.44,337.29L635.44,338.23L636.85,338.23L636.85,339.08L638.25,339.08L638.25,339.86L639.65,339.86L639.65,340.56L641.05,340.56L641.05,341.18L642.45,341.18L642.45,341.74L643.86,341.74L643.86,342.21L645.26,342.21L645.26,342.62L646.66,342.62L646.66,342.95L648.06,342.95L648.06,343.24L649.46,343.24L649.46,343.50L650.87,343.50L650.87,343.73L652.27,343.73L652.27,343.93L653.67,343.93L653.67,344.12L655.07,344.12L655.07,344.29L656.47,344.29L656.47,344.45L657.88,344.45L657.88,344.60L659.28,344.60L659.28,344.74L660.68,344.74L660.68,344.87L662.08,344.87L662.08,344.98L663.48,344.98L663.48,345.08L664.89,345.08L664.89,345.16L666.29,345.16L666.29,345.23L667.69,345.23L667.69,345.30L669.09,345.30L669.09,345.36L670.49,345.36L670.49,345.41L671.90,345.41L671.90,345.45L673.30,345.45L673.30,345.48L674.70,345.48L674.70,345.70" fill="none" stroke="#ff0000" stroke-width="1.55" stroke-linejoin="miter" stroke-dasharray="1.55 2.1"/>
</g>
<rect x="601.40" y="257.50" width="76.70" height="88.20" fill="none" stroke="#000" stroke-width="1.3"/>
<line x1="596.60" y1="345.70" x2="601.40" y2="345.70" stroke="#000" stroke-width="1.2"/>
<text transform="scale(0.88,1)" x="667.19" y="349.05" font-size="8.90">0</text>
<line x1="596.60" y1="324.90" x2="601.40" y2="324.90" stroke="#000" stroke-width="1.2"/>
<text transform="scale(0.88,1)" x="649.85 655.63 661.41 667.19" y="328.25" font-size="8.90">5000</text>
<line x1="596.60" y1="304.10" x2="601.40" y2="304.10" stroke="#000" stroke-width="1.2"/>
<text transform="scale(0.88,1)" x="644.06 649.85 655.63 661.41 667.19" y="307.45" font-size="8.90">10000</text>
<line x1="596.60" y1="283.30" x2="601.40" y2="283.30" stroke="#000" stroke-width="1.2"/>
<text transform="scale(0.88,1)" x="644.06 649.85 655.63 661.41 667.19" y="286.65" font-size="8.90">15000</text>
<line x1="596.60" y1="262.50" x2="601.40" y2="262.50" stroke="#000" stroke-width="1.2"/>
<text transform="scale(0.88,1)" x="644.06 649.85 655.63 661.41 667.19" y="265.85" font-size="8.90">20000</text>
<line x1="604.60" y1="345.70" x2="604.60" y2="350.50" stroke="#000" stroke-width="1.2"/>
<text transform="scale(0.88,1)" x="680.23 685.81 688.91" y="361.90" font-size="8.90">0.0</text>
<line x1="639.65" y1="345.70" x2="639.65" y2="350.50" stroke="#000" stroke-width="1.2"/>
<text transform="scale(0.88,1)" x="720.06 725.64 728.74" y="361.90" font-size="8.90">0.5</text>
<line x1="674.70" y1="345.70" x2="674.70" y2="350.50" stroke="#000" stroke-width="1.2"/>
<text transform="scale(0.88,1)" x="759.89 765.47 768.57" y="361.90" font-size="8.90">1.0</text>
</g>
<text transform="translate(61.05,122.60) scale(0.914,1)" font-size="10.74" font-style="italic" style="stroke-width:0.12px">p</text>
<text transform="translate(67.56,125.90) scale(0.952,1)" font-size="8.70" font-style="italic" style="stroke-width:0.05px">T</text>
<text transform="translate(68.28,117.60) scale(1.096,1)" font-size="7.59" font-style="italic" style="stroke-width:0.05px;letter-spacing:0.398px">lep1</text>
<text transform="translate(174.60,121.70) scale(1.200,1)" font-size="11.11" font-style="italic" style="stroke-width:0.12px">η</text>
<text transform="translate(181.88,117.80) scale(1.071,1)" font-size="7.72" font-style="italic" style="stroke-width:0.05px;letter-spacing:0.307px">lep1</text>
<text transform="translate(286.45,121.74) scale(1.331,1)" font-size="11.23" font-style="italic" style="stroke-width:0.12px">ϕ</text>
<text transform="translate(294.77,117.80) scale(1.062,1)" font-size="8.00" font-style="italic" style="stroke-width:0.05px;letter-spacing:0.279px">lep1</text>
<text transform="translate(400.96,122.30) scale(0.982,1)" font-size="10.56" font-style="italic" style="stroke-width:0.12px">p</text>
<text transform="translate(407.46,125.90) scale(0.952,1)" font-size="8.70" font-style="italic" style="stroke-width:0.05px">T</text>
<text transform="translate(408.38,117.80) scale(1.050,1)" font-size="7.72" font-style="italic" style="stroke-width:0.05px;letter-spacing:0.228px">lep2</text>
<text transform="translate(514.50,121.70) scale(1.200,1)" font-size="11.11" font-style="italic" style="stroke-width:0.12px">η</text>
<text transform="translate(521.78,117.80) scale(1.050,1)" font-size="7.72" font-style="italic" style="stroke-width:0.05px;letter-spacing:0.228px">lep2</text>
<text transform="translate(626.35,121.74) scale(1.331,1)" font-size="11.23" font-style="italic" style="stroke-width:0.12px">ϕ</text>
<text transform="translate(634.68,117.80) scale(1.041,1)" font-size="8.00" font-style="italic" style="stroke-width:0.05px;letter-spacing:0.195px">lep2</text>
<text transform="translate(60.25,250.20) scale(1.016,1)" font-size="11.59" font-style="italic" style="stroke-width:0.12px">E</text>
<text transform="translate(66.71,252.80) scale(1.190,1)" font-size="7.39" font-style="italic" style="stroke-width:0.05px">T</text>
<text transform="translate(68.08,245.90) scale(1.023,1)" font-size="8.14" font-style="italic" style="stroke-width:0.05px;letter-spacing:0.124px">miss</text>
<text transform="translate(173.27,248.47) scale(1.242,1)" font-size="11.55" font-style="italic" style="stroke-width:0.12px">ϕ</text>
<text transform="translate(180.97,250.30) scale(0.992,1)" font-size="8.55" font-style="italic" style="stroke-width:0.05px;letter-spacing:-0.046px">miss</text>
<text transform="translate(286.80,250.20) scale(0.878,1)" font-size="11.30" font-style="italic" style="stroke-width:0.12px">E</text>
<text transform="translate(294.38,246.10) scale(1.051,1)" font-size="7.86" font-style="italic" style="stroke-width:0.05px;letter-spacing:0.257px">miss</text>
<text transform="translate(294.10,253.40) scale(0.656,1)" font-size="8.41" font-style="italic" style="stroke-width:0.05px">T</text>
<text transform="translate(298.84,252.55) scale(0.659,1)" font-size="11.91" font-style="italic" style="stroke-width:0.12px">,</text>
<text transform="translate(302.37,253.40) scale(0.993,1)" font-size="8.41" font-style="italic" style="stroke-width:0.05px;letter-spacing:-0.031px">rel</text>
<text transform="translate(385.20,250.00) scale(1.067,1)" font-size="10.76" style="stroke-width:0.12px;letter-spacing:0.352px">Axial</text>
<text transform="translate(415.27,250.00) scale(0.974,1)" font-size="11.30" font-style="italic" style="stroke-width:0.12px">E</text>
<text transform="translate(423.07,246.20) scale(1.008,1)" font-size="8.28" font-style="italic" style="stroke-width:0.05px;letter-spacing:0.047px">miss</text>
<text transform="translate(421.97,252.40) scale(1.118,1)" font-size="7.25" font-style="italic" style="stroke-width:0.05px">T</text>
<text transform="translate(518.06,248.20) scale(0.986,1)" font-size="11.59" font-style="italic" style="stroke-width:0.12px">M</text>
<text transform="translate(527.58,250.00) scale(0.965,1)" font-size="7.54" font-style="italic" style="stroke-width:0.05px">R</text>
<text transform="translate(631.46,249.80) scale(1.013,1)" font-size="11.16" font-style="italic" style="stroke-width:0.12px">M</text>
<text transform="translate(641.44,244.80) scale(1.267,1)" font-size="6.67" font-style="italic" style="stroke-width:0.05px">T</text>
<text transform="translate(640.99,252.50) scale(1.143,1)" font-size="6.23" font-style="italic" style="stroke-width:0.05px">R</text>
<text transform="translate(69.20,376.80) scale(0.876,1)" font-size="11.59" font-style="italic" style="stroke-width:0.12px">R</text>
<text transform="translate(176.06,376.50) scale(1.013,1)" font-size="11.16" font-style="italic" style="stroke-width:0.12px">M</text>
<text transform="translate(185.17,378.50) scale(1.056,1)" font-size="7.71" font-style="italic" style="stroke-width:0.05px;letter-spacing:0.437px">T2</text>
<path d="M289.6,376.9 L290.6,376.2 L292.5,383.6 L296.6,369.6 L311.0,369.6" fill="none" stroke="#000" stroke-width="0.9" stroke-linejoin="miter"/>
<text transform="translate(298.45,381.80) scale(1.061,1)" font-size="9.72" font-style="italic" style="stroke-width:0.12px">s</text>
<path d="M299.4,374.9 L301.3,372.6 L303.2,374.9" fill="none" stroke="#000" stroke-width="0.9"/>
<text transform="translate(303.88,383.80) scale(1.045,1)" font-size="6.96" font-style="italic" style="stroke-width:0.05px">R</text>
<text transform="translate(404.79,378.30) scale(0.911,1)" font-size="11.45" font-style="italic" style="stroke-width:0.12px">M</text>
<text transform="translate(414.97,374.10) scale(1.006,1)" font-size="7.68" font-style="italic" style="stroke-width:0.05px">R</text>
<text transform="translate(414.23,381.50) scale(1.152,1)" font-size="7.68" style="stroke-width:0.05px">Δ</text>
<text transform="translate(515.56,379.60) scale(1.055,1)" font-size="10.72" style="stroke-width:0.12px">Δ</text>
<text transform="translate(523.11,379.94) scale(1.169,1)" font-size="11.23" font-style="italic" style="stroke-width:0.12px">ϕ</text>
<text transform="translate(531.31,374.25) scale(1.117,1)" font-size="7.38" font-style="italic" style="stroke-width:0.05px">β</text>
<text transform="translate(530.62,382.70) scale(0.890,1)" font-size="6.81" font-style="italic" style="stroke-width:0.05px">R</text>
<text transform="translate(612.66,376.80) scale(1.031,1)" font-size="10.56" style="stroke-width:0.12px;letter-spacing:0.237px">cos</text>
<text transform="translate(629.92,376.73) scale(1.048,1)" font-size="10.80" style="stroke-width:0.12px">(</text>
<text transform="translate(634.46,376.80) scale(1.050,1)" font-size="10.21" font-style="italic" style="stroke-width:0.12px">θ</text>
<text transform="translate(641.79,379.00) scale(1.002,1)" font-size="6.96" font-style="italic" style="stroke-width:0.05px">R</text>
<text transform="translate(647.79,378.60) scale(1.465,1)" font-size="6.90" style="stroke-width:0.05px">+</text>
<text transform="translate(655.17,379.00) scale(1.586,1)" font-size="6.96" style="stroke-width:0.05px">1</text>
<text transform="translate(661.63,376.73) scale(1.223,1)" font-size="10.80" style="stroke-width:0.12px">)</text>
<rect x="603" y="40" width="59" height="21" fill="#fff"/>
<rect x="603" y="61" width="82" height="22.5" fill="#fff"/>
<text transform="translate(609.15,55.40) scale(1.049,1)" font-size="11.72" style="stroke-width:0.12px;letter-spacing:0.295px">Signal</text>
<text transform="translate(608.71,74.70) scale(1.070,1)" font-size="11.59" fill="#ff0000" color="#ff0000" style="stroke-width:0.12px;letter-spacing:0.439px">Background</text>
</svg></body></html>
